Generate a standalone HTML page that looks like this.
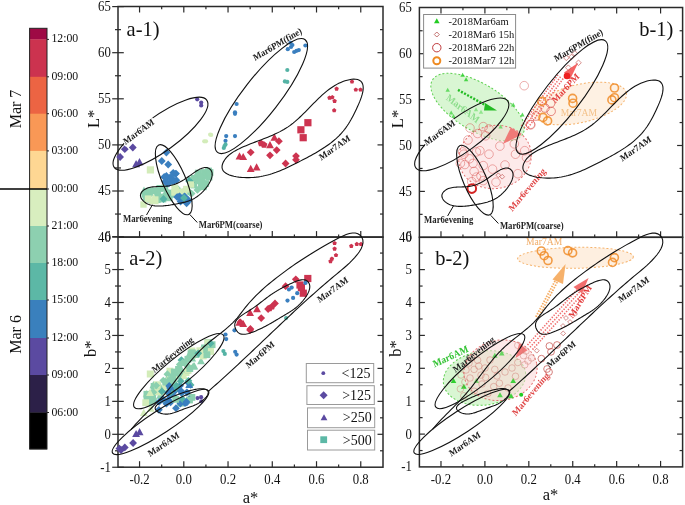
<!DOCTYPE html>
<html><head><meta charset="utf-8"><style>
html,body{margin:0;padding:0;background:#fff;}
svg{display:block;font-family:"Liberation Serif",serif;will-change:transform;}
</style></head><body>
<svg width="685" height="505" viewBox="0 0 685 505">
<rect width="685" height="505" fill="#fff"/>
<g id="colorbar">
<rect x="29.6" y="28.3" width="17.4" height="11.4" fill="#9e0a45"/>
<rect x="29.6" y="39.4" width="17.4" height="37.7" fill="#cc334f"/>
<rect x="29.6" y="76.8" width="17.4" height="37.2" fill="#ec6443"/>
<rect x="29.6" y="113.7" width="17.4" height="37.5" fill="#f99856"/>
<rect x="29.6" y="150.9" width="17.4" height="38.4" fill="#fed793"/>
<rect x="29.6" y="189.0" width="17.4" height="37.3" fill="#d8eebf"/>
<rect x="29.6" y="226.0" width="17.4" height="37.3" fill="#8dd0b0"/>
<rect x="29.6" y="263.0" width="17.4" height="37.3" fill="#5cb8a6"/>
<rect x="29.6" y="300.0" width="17.4" height="38.3" fill="#3a80bd"/>
<rect x="29.6" y="338.0" width="17.4" height="37.3" fill="#5b4aa1"/>
<rect x="29.6" y="375.0" width="17.4" height="37.8" fill="#2c2048"/>
<rect x="29.6" y="412.5" width="17.4" height="36.8" fill="#000000"/>
<rect x="29.6" y="28.3" width="17.4" height="420.7" fill="none" stroke="#222" stroke-width="1"/>
<line x1="47.00" y1="39.40" x2="49.00" y2="39.40" stroke="#222" stroke-width="1"/>
<text transform="translate(51.40,42.40) scale(1.0,1.04)" font-size="11.8" text-anchor="start" fill="#111" >12:00</text>
<line x1="47.00" y1="76.80" x2="49.00" y2="76.80" stroke="#222" stroke-width="1"/>
<text transform="translate(51.40,79.80) scale(1.0,1.04)" font-size="11.8" text-anchor="start" fill="#111" >09:00</text>
<line x1="47.00" y1="113.70" x2="49.00" y2="113.70" stroke="#222" stroke-width="1"/>
<text transform="translate(51.40,116.70) scale(1.0,1.04)" font-size="11.8" text-anchor="start" fill="#111" >06:00</text>
<line x1="47.00" y1="150.90" x2="49.00" y2="150.90" stroke="#222" stroke-width="1"/>
<text transform="translate(51.40,153.90) scale(1.0,1.04)" font-size="11.8" text-anchor="start" fill="#111" >03:00</text>
<line x1="47.00" y1="189.00" x2="49.00" y2="189.00" stroke="#222" stroke-width="1"/>
<text transform="translate(51.40,192.00) scale(1.0,1.04)" font-size="11.8" text-anchor="start" fill="#111" >00:00</text>
<line x1="47.00" y1="226.00" x2="49.00" y2="226.00" stroke="#222" stroke-width="1"/>
<text transform="translate(51.40,229.00) scale(1.0,1.04)" font-size="11.8" text-anchor="start" fill="#111" >21:00</text>
<line x1="47.00" y1="263.00" x2="49.00" y2="263.00" stroke="#222" stroke-width="1"/>
<text transform="translate(51.40,266.00) scale(1.0,1.04)" font-size="11.8" text-anchor="start" fill="#111" >18:00</text>
<line x1="47.00" y1="300.00" x2="49.00" y2="300.00" stroke="#222" stroke-width="1"/>
<text transform="translate(51.40,303.00) scale(1.0,1.04)" font-size="11.8" text-anchor="start" fill="#111" >15:00</text>
<line x1="47.00" y1="338.00" x2="49.00" y2="338.00" stroke="#222" stroke-width="1"/>
<text transform="translate(51.40,341.00) scale(1.0,1.04)" font-size="11.8" text-anchor="start" fill="#111" >12:00</text>
<line x1="47.00" y1="375.00" x2="49.00" y2="375.00" stroke="#222" stroke-width="1"/>
<text transform="translate(51.40,378.00) scale(1.0,1.04)" font-size="11.8" text-anchor="start" fill="#111" >09:00</text>
<line x1="47.00" y1="412.50" x2="49.00" y2="412.50" stroke="#222" stroke-width="1"/>
<text transform="translate(51.40,415.50) scale(1.0,1.04)" font-size="11.8" text-anchor="start" fill="#111" >06:00</text>
<line x1="0.00" y1="189.00" x2="47.00" y2="189.00" stroke="#000" stroke-width="1.3"/>
<text transform="translate(20.5,109) rotate(-90)" font-size="16" text-anchor="middle" fill="#111">Mar 7</text>
<text transform="translate(20.7,334.4) rotate(-90)" font-size="16" text-anchor="middle" fill="#111">Mar 6</text>
</g>
<g id="axes">
<rect x="118.0" y="6.5" width="265.00" height="230.60" fill="none" stroke="#2a2a2a" stroke-width="1.5"/>
<rect x="118.0" y="237.1" width="265.00" height="230.10" fill="none" stroke="#2a2a2a" stroke-width="1.5"/>
<rect x="419.4" y="7.5" width="263.20" height="229.80" fill="none" stroke="#2a2a2a" stroke-width="1.5"/>
<rect x="419.4" y="237.3" width="263.20" height="229.60" fill="none" stroke="#2a2a2a" stroke-width="1.5"/>
<line x1="139.56" y1="6.50" x2="139.56" y2="12.50" stroke="#2a2a2a" stroke-width="1.2"/>
<line x1="161.68" y1="6.50" x2="161.68" y2="9.20" stroke="#2a2a2a" stroke-width="1.2"/>
<line x1="183.80" y1="6.50" x2="183.80" y2="12.50" stroke="#2a2a2a" stroke-width="1.2"/>
<line x1="205.92" y1="6.50" x2="205.92" y2="9.20" stroke="#2a2a2a" stroke-width="1.2"/>
<line x1="228.04" y1="6.50" x2="228.04" y2="12.50" stroke="#2a2a2a" stroke-width="1.2"/>
<line x1="250.16" y1="6.50" x2="250.16" y2="9.20" stroke="#2a2a2a" stroke-width="1.2"/>
<line x1="272.28" y1="6.50" x2="272.28" y2="12.50" stroke="#2a2a2a" stroke-width="1.2"/>
<line x1="294.40" y1="6.50" x2="294.40" y2="9.20" stroke="#2a2a2a" stroke-width="1.2"/>
<line x1="316.52" y1="6.50" x2="316.52" y2="12.50" stroke="#2a2a2a" stroke-width="1.2"/>
<line x1="338.64" y1="6.50" x2="338.64" y2="9.20" stroke="#2a2a2a" stroke-width="1.2"/>
<line x1="360.76" y1="6.50" x2="360.76" y2="12.50" stroke="#2a2a2a" stroke-width="1.2"/>
<line x1="139.56" y1="237.10" x2="139.56" y2="231.10" stroke="#2a2a2a" stroke-width="1.2"/>
<line x1="161.68" y1="237.10" x2="161.68" y2="234.40" stroke="#2a2a2a" stroke-width="1.2"/>
<line x1="183.80" y1="237.10" x2="183.80" y2="231.10" stroke="#2a2a2a" stroke-width="1.2"/>
<line x1="205.92" y1="237.10" x2="205.92" y2="234.40" stroke="#2a2a2a" stroke-width="1.2"/>
<line x1="228.04" y1="237.10" x2="228.04" y2="231.10" stroke="#2a2a2a" stroke-width="1.2"/>
<line x1="250.16" y1="237.10" x2="250.16" y2="234.40" stroke="#2a2a2a" stroke-width="1.2"/>
<line x1="272.28" y1="237.10" x2="272.28" y2="231.10" stroke="#2a2a2a" stroke-width="1.2"/>
<line x1="294.40" y1="237.10" x2="294.40" y2="234.40" stroke="#2a2a2a" stroke-width="1.2"/>
<line x1="316.52" y1="237.10" x2="316.52" y2="231.10" stroke="#2a2a2a" stroke-width="1.2"/>
<line x1="338.64" y1="237.10" x2="338.64" y2="234.40" stroke="#2a2a2a" stroke-width="1.2"/>
<line x1="360.76" y1="237.10" x2="360.76" y2="231.10" stroke="#2a2a2a" stroke-width="1.2"/>
<line x1="139.56" y1="467.20" x2="139.56" y2="461.20" stroke="#2a2a2a" stroke-width="1.2"/>
<line x1="161.68" y1="467.20" x2="161.68" y2="464.50" stroke="#2a2a2a" stroke-width="1.2"/>
<line x1="183.80" y1="467.20" x2="183.80" y2="461.20" stroke="#2a2a2a" stroke-width="1.2"/>
<line x1="205.92" y1="467.20" x2="205.92" y2="464.50" stroke="#2a2a2a" stroke-width="1.2"/>
<line x1="228.04" y1="467.20" x2="228.04" y2="461.20" stroke="#2a2a2a" stroke-width="1.2"/>
<line x1="250.16" y1="467.20" x2="250.16" y2="464.50" stroke="#2a2a2a" stroke-width="1.2"/>
<line x1="272.28" y1="467.20" x2="272.28" y2="461.20" stroke="#2a2a2a" stroke-width="1.2"/>
<line x1="294.40" y1="467.20" x2="294.40" y2="464.50" stroke="#2a2a2a" stroke-width="1.2"/>
<line x1="316.52" y1="467.20" x2="316.52" y2="461.20" stroke="#2a2a2a" stroke-width="1.2"/>
<line x1="338.64" y1="467.20" x2="338.64" y2="464.50" stroke="#2a2a2a" stroke-width="1.2"/>
<line x1="360.76" y1="467.20" x2="360.76" y2="461.20" stroke="#2a2a2a" stroke-width="1.2"/>
<line x1="440.98" y1="7.50" x2="440.98" y2="13.50" stroke="#2a2a2a" stroke-width="1.2"/>
<line x1="462.94" y1="7.50" x2="462.94" y2="10.20" stroke="#2a2a2a" stroke-width="1.2"/>
<line x1="484.90" y1="7.50" x2="484.90" y2="13.50" stroke="#2a2a2a" stroke-width="1.2"/>
<line x1="506.86" y1="7.50" x2="506.86" y2="10.20" stroke="#2a2a2a" stroke-width="1.2"/>
<line x1="528.82" y1="7.50" x2="528.82" y2="13.50" stroke="#2a2a2a" stroke-width="1.2"/>
<line x1="550.78" y1="7.50" x2="550.78" y2="10.20" stroke="#2a2a2a" stroke-width="1.2"/>
<line x1="572.74" y1="7.50" x2="572.74" y2="13.50" stroke="#2a2a2a" stroke-width="1.2"/>
<line x1="594.70" y1="7.50" x2="594.70" y2="10.20" stroke="#2a2a2a" stroke-width="1.2"/>
<line x1="616.66" y1="7.50" x2="616.66" y2="13.50" stroke="#2a2a2a" stroke-width="1.2"/>
<line x1="638.62" y1="7.50" x2="638.62" y2="10.20" stroke="#2a2a2a" stroke-width="1.2"/>
<line x1="660.58" y1="7.50" x2="660.58" y2="13.50" stroke="#2a2a2a" stroke-width="1.2"/>
<line x1="440.98" y1="237.30" x2="440.98" y2="231.30" stroke="#2a2a2a" stroke-width="1.2"/>
<line x1="462.94" y1="237.30" x2="462.94" y2="234.60" stroke="#2a2a2a" stroke-width="1.2"/>
<line x1="484.90" y1="237.30" x2="484.90" y2="231.30" stroke="#2a2a2a" stroke-width="1.2"/>
<line x1="506.86" y1="237.30" x2="506.86" y2="234.60" stroke="#2a2a2a" stroke-width="1.2"/>
<line x1="528.82" y1="237.30" x2="528.82" y2="231.30" stroke="#2a2a2a" stroke-width="1.2"/>
<line x1="550.78" y1="237.30" x2="550.78" y2="234.60" stroke="#2a2a2a" stroke-width="1.2"/>
<line x1="572.74" y1="237.30" x2="572.74" y2="231.30" stroke="#2a2a2a" stroke-width="1.2"/>
<line x1="594.70" y1="237.30" x2="594.70" y2="234.60" stroke="#2a2a2a" stroke-width="1.2"/>
<line x1="616.66" y1="237.30" x2="616.66" y2="231.30" stroke="#2a2a2a" stroke-width="1.2"/>
<line x1="638.62" y1="237.30" x2="638.62" y2="234.60" stroke="#2a2a2a" stroke-width="1.2"/>
<line x1="660.58" y1="237.30" x2="660.58" y2="231.30" stroke="#2a2a2a" stroke-width="1.2"/>
<line x1="440.98" y1="466.90" x2="440.98" y2="460.90" stroke="#2a2a2a" stroke-width="1.2"/>
<line x1="462.94" y1="466.90" x2="462.94" y2="464.20" stroke="#2a2a2a" stroke-width="1.2"/>
<line x1="484.90" y1="466.90" x2="484.90" y2="460.90" stroke="#2a2a2a" stroke-width="1.2"/>
<line x1="506.86" y1="466.90" x2="506.86" y2="464.20" stroke="#2a2a2a" stroke-width="1.2"/>
<line x1="528.82" y1="466.90" x2="528.82" y2="460.90" stroke="#2a2a2a" stroke-width="1.2"/>
<line x1="550.78" y1="466.90" x2="550.78" y2="464.20" stroke="#2a2a2a" stroke-width="1.2"/>
<line x1="572.74" y1="466.90" x2="572.74" y2="460.90" stroke="#2a2a2a" stroke-width="1.2"/>
<line x1="594.70" y1="466.90" x2="594.70" y2="464.20" stroke="#2a2a2a" stroke-width="1.2"/>
<line x1="616.66" y1="466.90" x2="616.66" y2="460.90" stroke="#2a2a2a" stroke-width="1.2"/>
<line x1="638.62" y1="466.90" x2="638.62" y2="464.20" stroke="#2a2a2a" stroke-width="1.2"/>
<line x1="660.58" y1="466.90" x2="660.58" y2="460.90" stroke="#2a2a2a" stroke-width="1.2"/>
<line x1="112.20" y1="237.10" x2="123.80" y2="237.10" stroke="#2a2a2a" stroke-width="1.2"/>
<line x1="115.00" y1="214.05" x2="121.00" y2="214.05" stroke="#2a2a2a" stroke-width="1.2"/>
<line x1="380.00" y1="214.05" x2="383.00" y2="214.05" stroke="#2a2a2a" stroke-width="1.2"/>
<line x1="112.20" y1="191.00" x2="123.80" y2="191.00" stroke="#2a2a2a" stroke-width="1.2"/>
<line x1="377.50" y1="191.00" x2="383.00" y2="191.00" stroke="#2a2a2a" stroke-width="1.2"/>
<line x1="115.00" y1="167.95" x2="121.00" y2="167.95" stroke="#2a2a2a" stroke-width="1.2"/>
<line x1="380.00" y1="167.95" x2="383.00" y2="167.95" stroke="#2a2a2a" stroke-width="1.2"/>
<line x1="112.20" y1="144.90" x2="123.80" y2="144.90" stroke="#2a2a2a" stroke-width="1.2"/>
<line x1="377.50" y1="144.90" x2="383.00" y2="144.90" stroke="#2a2a2a" stroke-width="1.2"/>
<line x1="115.00" y1="121.85" x2="121.00" y2="121.85" stroke="#2a2a2a" stroke-width="1.2"/>
<line x1="380.00" y1="121.85" x2="383.00" y2="121.85" stroke="#2a2a2a" stroke-width="1.2"/>
<line x1="112.20" y1="98.80" x2="123.80" y2="98.80" stroke="#2a2a2a" stroke-width="1.2"/>
<line x1="377.50" y1="98.80" x2="383.00" y2="98.80" stroke="#2a2a2a" stroke-width="1.2"/>
<line x1="115.00" y1="75.75" x2="121.00" y2="75.75" stroke="#2a2a2a" stroke-width="1.2"/>
<line x1="380.00" y1="75.75" x2="383.00" y2="75.75" stroke="#2a2a2a" stroke-width="1.2"/>
<line x1="112.20" y1="52.70" x2="123.80" y2="52.70" stroke="#2a2a2a" stroke-width="1.2"/>
<line x1="377.50" y1="52.70" x2="383.00" y2="52.70" stroke="#2a2a2a" stroke-width="1.2"/>
<line x1="115.00" y1="29.65" x2="121.00" y2="29.65" stroke="#2a2a2a" stroke-width="1.2"/>
<line x1="380.00" y1="29.65" x2="383.00" y2="29.65" stroke="#2a2a2a" stroke-width="1.2"/>
<line x1="112.20" y1="6.60" x2="123.80" y2="6.60" stroke="#2a2a2a" stroke-width="1.2"/>
<line x1="112.20" y1="467.25" x2="123.80" y2="467.25" stroke="#2a2a2a" stroke-width="1.2"/>
<line x1="115.00" y1="450.78" x2="121.00" y2="450.78" stroke="#2a2a2a" stroke-width="1.2"/>
<line x1="380.00" y1="450.78" x2="383.00" y2="450.78" stroke="#2a2a2a" stroke-width="1.2"/>
<line x1="112.20" y1="434.30" x2="123.80" y2="434.30" stroke="#2a2a2a" stroke-width="1.2"/>
<line x1="377.50" y1="434.30" x2="383.00" y2="434.30" stroke="#2a2a2a" stroke-width="1.2"/>
<line x1="115.00" y1="417.82" x2="121.00" y2="417.82" stroke="#2a2a2a" stroke-width="1.2"/>
<line x1="380.00" y1="417.82" x2="383.00" y2="417.82" stroke="#2a2a2a" stroke-width="1.2"/>
<line x1="112.20" y1="401.35" x2="123.80" y2="401.35" stroke="#2a2a2a" stroke-width="1.2"/>
<line x1="377.50" y1="401.35" x2="383.00" y2="401.35" stroke="#2a2a2a" stroke-width="1.2"/>
<line x1="115.00" y1="384.88" x2="121.00" y2="384.88" stroke="#2a2a2a" stroke-width="1.2"/>
<line x1="380.00" y1="384.88" x2="383.00" y2="384.88" stroke="#2a2a2a" stroke-width="1.2"/>
<line x1="112.20" y1="368.40" x2="123.80" y2="368.40" stroke="#2a2a2a" stroke-width="1.2"/>
<line x1="377.50" y1="368.40" x2="383.00" y2="368.40" stroke="#2a2a2a" stroke-width="1.2"/>
<line x1="115.00" y1="351.93" x2="121.00" y2="351.93" stroke="#2a2a2a" stroke-width="1.2"/>
<line x1="380.00" y1="351.93" x2="383.00" y2="351.93" stroke="#2a2a2a" stroke-width="1.2"/>
<line x1="112.20" y1="335.45" x2="123.80" y2="335.45" stroke="#2a2a2a" stroke-width="1.2"/>
<line x1="377.50" y1="335.45" x2="383.00" y2="335.45" stroke="#2a2a2a" stroke-width="1.2"/>
<line x1="115.00" y1="318.98" x2="121.00" y2="318.98" stroke="#2a2a2a" stroke-width="1.2"/>
<line x1="380.00" y1="318.98" x2="383.00" y2="318.98" stroke="#2a2a2a" stroke-width="1.2"/>
<line x1="112.20" y1="302.50" x2="123.80" y2="302.50" stroke="#2a2a2a" stroke-width="1.2"/>
<line x1="377.50" y1="302.50" x2="383.00" y2="302.50" stroke="#2a2a2a" stroke-width="1.2"/>
<line x1="115.00" y1="286.02" x2="121.00" y2="286.02" stroke="#2a2a2a" stroke-width="1.2"/>
<line x1="380.00" y1="286.02" x2="383.00" y2="286.02" stroke="#2a2a2a" stroke-width="1.2"/>
<line x1="112.20" y1="269.55" x2="123.80" y2="269.55" stroke="#2a2a2a" stroke-width="1.2"/>
<line x1="377.50" y1="269.55" x2="383.00" y2="269.55" stroke="#2a2a2a" stroke-width="1.2"/>
<line x1="115.00" y1="253.07" x2="121.00" y2="253.07" stroke="#2a2a2a" stroke-width="1.2"/>
<line x1="380.00" y1="253.07" x2="383.00" y2="253.07" stroke="#2a2a2a" stroke-width="1.2"/>
<line x1="112.20" y1="236.60" x2="123.80" y2="236.60" stroke="#2a2a2a" stroke-width="1.2"/>
<line x1="419.40" y1="214.35" x2="422.60" y2="214.35" stroke="#2a2a2a" stroke-width="1.2"/>
<line x1="679.60" y1="214.35" x2="682.60" y2="214.35" stroke="#2a2a2a" stroke-width="1.2"/>
<line x1="419.40" y1="191.40" x2="424.90" y2="191.40" stroke="#2a2a2a" stroke-width="1.2"/>
<line x1="677.10" y1="191.40" x2="682.60" y2="191.40" stroke="#2a2a2a" stroke-width="1.2"/>
<line x1="419.40" y1="168.45" x2="422.60" y2="168.45" stroke="#2a2a2a" stroke-width="1.2"/>
<line x1="679.60" y1="168.45" x2="682.60" y2="168.45" stroke="#2a2a2a" stroke-width="1.2"/>
<line x1="419.40" y1="145.50" x2="424.90" y2="145.50" stroke="#2a2a2a" stroke-width="1.2"/>
<line x1="677.10" y1="145.50" x2="682.60" y2="145.50" stroke="#2a2a2a" stroke-width="1.2"/>
<line x1="419.40" y1="122.55" x2="422.60" y2="122.55" stroke="#2a2a2a" stroke-width="1.2"/>
<line x1="679.60" y1="122.55" x2="682.60" y2="122.55" stroke="#2a2a2a" stroke-width="1.2"/>
<line x1="419.40" y1="99.60" x2="424.90" y2="99.60" stroke="#2a2a2a" stroke-width="1.2"/>
<line x1="677.10" y1="99.60" x2="682.60" y2="99.60" stroke="#2a2a2a" stroke-width="1.2"/>
<line x1="419.40" y1="76.65" x2="422.60" y2="76.65" stroke="#2a2a2a" stroke-width="1.2"/>
<line x1="679.60" y1="76.65" x2="682.60" y2="76.65" stroke="#2a2a2a" stroke-width="1.2"/>
<line x1="419.40" y1="53.70" x2="424.90" y2="53.70" stroke="#2a2a2a" stroke-width="1.2"/>
<line x1="677.10" y1="53.70" x2="682.60" y2="53.70" stroke="#2a2a2a" stroke-width="1.2"/>
<line x1="419.40" y1="30.75" x2="422.60" y2="30.75" stroke="#2a2a2a" stroke-width="1.2"/>
<line x1="679.60" y1="30.75" x2="682.60" y2="30.75" stroke="#2a2a2a" stroke-width="1.2"/>
<line x1="419.40" y1="450.55" x2="422.60" y2="450.55" stroke="#2a2a2a" stroke-width="1.2"/>
<line x1="679.60" y1="450.55" x2="682.60" y2="450.55" stroke="#2a2a2a" stroke-width="1.2"/>
<line x1="419.40" y1="434.10" x2="424.90" y2="434.10" stroke="#2a2a2a" stroke-width="1.2"/>
<line x1="677.10" y1="434.10" x2="682.60" y2="434.10" stroke="#2a2a2a" stroke-width="1.2"/>
<line x1="419.40" y1="417.65" x2="422.60" y2="417.65" stroke="#2a2a2a" stroke-width="1.2"/>
<line x1="679.60" y1="417.65" x2="682.60" y2="417.65" stroke="#2a2a2a" stroke-width="1.2"/>
<line x1="419.40" y1="401.20" x2="424.90" y2="401.20" stroke="#2a2a2a" stroke-width="1.2"/>
<line x1="677.10" y1="401.20" x2="682.60" y2="401.20" stroke="#2a2a2a" stroke-width="1.2"/>
<line x1="419.40" y1="384.75" x2="422.60" y2="384.75" stroke="#2a2a2a" stroke-width="1.2"/>
<line x1="679.60" y1="384.75" x2="682.60" y2="384.75" stroke="#2a2a2a" stroke-width="1.2"/>
<line x1="419.40" y1="368.30" x2="424.90" y2="368.30" stroke="#2a2a2a" stroke-width="1.2"/>
<line x1="677.10" y1="368.30" x2="682.60" y2="368.30" stroke="#2a2a2a" stroke-width="1.2"/>
<line x1="419.40" y1="351.85" x2="422.60" y2="351.85" stroke="#2a2a2a" stroke-width="1.2"/>
<line x1="679.60" y1="351.85" x2="682.60" y2="351.85" stroke="#2a2a2a" stroke-width="1.2"/>
<line x1="419.40" y1="335.40" x2="424.90" y2="335.40" stroke="#2a2a2a" stroke-width="1.2"/>
<line x1="677.10" y1="335.40" x2="682.60" y2="335.40" stroke="#2a2a2a" stroke-width="1.2"/>
<line x1="419.40" y1="318.95" x2="422.60" y2="318.95" stroke="#2a2a2a" stroke-width="1.2"/>
<line x1="679.60" y1="318.95" x2="682.60" y2="318.95" stroke="#2a2a2a" stroke-width="1.2"/>
<line x1="419.40" y1="302.50" x2="424.90" y2="302.50" stroke="#2a2a2a" stroke-width="1.2"/>
<line x1="677.10" y1="302.50" x2="682.60" y2="302.50" stroke="#2a2a2a" stroke-width="1.2"/>
<line x1="419.40" y1="286.05" x2="422.60" y2="286.05" stroke="#2a2a2a" stroke-width="1.2"/>
<line x1="679.60" y1="286.05" x2="682.60" y2="286.05" stroke="#2a2a2a" stroke-width="1.2"/>
<line x1="419.40" y1="269.60" x2="424.90" y2="269.60" stroke="#2a2a2a" stroke-width="1.2"/>
<line x1="677.10" y1="269.60" x2="682.60" y2="269.60" stroke="#2a2a2a" stroke-width="1.2"/>
<line x1="419.40" y1="253.15" x2="422.60" y2="253.15" stroke="#2a2a2a" stroke-width="1.2"/>
<line x1="679.60" y1="253.15" x2="682.60" y2="253.15" stroke="#2a2a2a" stroke-width="1.2"/>
<text transform="translate(110.80,241.50) scale(1.0,1.12)" font-size="12.8" text-anchor="end" fill="#111" >40</text>
<text transform="translate(411.80,241.70) scale(1.0,1.12)" font-size="12.8" text-anchor="end" fill="#111" >40</text>
<text transform="translate(110.80,195.40) scale(1.0,1.12)" font-size="12.8" text-anchor="end" fill="#111" >45</text>
<text transform="translate(411.80,195.80) scale(1.0,1.12)" font-size="12.8" text-anchor="end" fill="#111" >45</text>
<text transform="translate(110.80,149.30) scale(1.0,1.12)" font-size="12.8" text-anchor="end" fill="#111" >50</text>
<text transform="translate(411.80,149.90) scale(1.0,1.12)" font-size="12.8" text-anchor="end" fill="#111" >50</text>
<text transform="translate(110.80,103.20) scale(1.0,1.12)" font-size="12.8" text-anchor="end" fill="#111" >55</text>
<text transform="translate(411.80,104.00) scale(1.0,1.12)" font-size="12.8" text-anchor="end" fill="#111" >55</text>
<text transform="translate(110.80,57.10) scale(1.0,1.12)" font-size="12.8" text-anchor="end" fill="#111" >60</text>
<text transform="translate(411.80,58.10) scale(1.0,1.12)" font-size="12.8" text-anchor="end" fill="#111" >60</text>
<text transform="translate(110.80,11.00) scale(1.0,1.12)" font-size="12.8" text-anchor="end" fill="#111" >65</text>
<text transform="translate(411.80,12.20) scale(1.0,1.12)" font-size="12.8" text-anchor="end" fill="#111" >65</text>
<text transform="translate(110.80,471.65) scale(1.0,1.12)" font-size="12.8" text-anchor="end" fill="#111" >-1</text>
<text transform="translate(411.80,471.40) scale(1.0,1.12)" font-size="12.8" text-anchor="end" fill="#111" >-1</text>
<text transform="translate(110.80,438.70) scale(1.0,1.12)" font-size="12.8" text-anchor="end" fill="#111" >0</text>
<text transform="translate(411.80,438.50) scale(1.0,1.12)" font-size="12.8" text-anchor="end" fill="#111" >0</text>
<text transform="translate(110.80,405.75) scale(1.0,1.12)" font-size="12.8" text-anchor="end" fill="#111" >1</text>
<text transform="translate(411.80,405.60) scale(1.0,1.12)" font-size="12.8" text-anchor="end" fill="#111" >1</text>
<text transform="translate(110.80,372.80) scale(1.0,1.12)" font-size="12.8" text-anchor="end" fill="#111" >2</text>
<text transform="translate(411.80,372.70) scale(1.0,1.12)" font-size="12.8" text-anchor="end" fill="#111" >2</text>
<text transform="translate(110.80,339.85) scale(1.0,1.12)" font-size="12.8" text-anchor="end" fill="#111" >3</text>
<text transform="translate(411.80,339.80) scale(1.0,1.12)" font-size="12.8" text-anchor="end" fill="#111" >3</text>
<text transform="translate(110.80,306.90) scale(1.0,1.12)" font-size="12.8" text-anchor="end" fill="#111" >4</text>
<text transform="translate(411.80,306.90) scale(1.0,1.12)" font-size="12.8" text-anchor="end" fill="#111" >4</text>
<text transform="translate(110.80,273.95) scale(1.0,1.12)" font-size="12.8" text-anchor="end" fill="#111" >5</text>
<text transform="translate(411.80,274.00) scale(1.0,1.12)" font-size="12.8" text-anchor="end" fill="#111" >5</text>
<text transform="translate(110.80,241.00) scale(1.0,1.12)" font-size="12.8" text-anchor="end" fill="#111" >6</text>
<text transform="translate(411.80,241.10) scale(1.0,1.12)" font-size="12.8" text-anchor="end" fill="#111" >6</text>
<text transform="translate(139.56,483.80) scale(1.0,1.12)" font-size="12.8" text-anchor="middle" fill="#111" >-0.2</text>
<text transform="translate(440.98,483.80) scale(1.0,1.12)" font-size="12.8" text-anchor="middle" fill="#111" >-0.2</text>
<text transform="translate(183.80,483.80) scale(1.0,1.12)" font-size="12.8" text-anchor="middle" fill="#111" >0.0</text>
<text transform="translate(484.90,483.80) scale(1.0,1.12)" font-size="12.8" text-anchor="middle" fill="#111" >0.0</text>
<text transform="translate(228.04,483.80) scale(1.0,1.12)" font-size="12.8" text-anchor="middle" fill="#111" >0.2</text>
<text transform="translate(528.82,483.80) scale(1.0,1.12)" font-size="12.8" text-anchor="middle" fill="#111" >0.2</text>
<text transform="translate(272.28,483.80) scale(1.0,1.12)" font-size="12.8" text-anchor="middle" fill="#111" >0.4</text>
<text transform="translate(572.74,483.80) scale(1.0,1.12)" font-size="12.8" text-anchor="middle" fill="#111" >0.4</text>
<text transform="translate(316.52,483.80) scale(1.0,1.12)" font-size="12.8" text-anchor="middle" fill="#111" >0.6</text>
<text transform="translate(616.66,483.80) scale(1.0,1.12)" font-size="12.8" text-anchor="middle" fill="#111" >0.6</text>
<text transform="translate(360.76,483.80) scale(1.0,1.12)" font-size="12.8" text-anchor="middle" fill="#111" >0.8</text>
<text transform="translate(660.58,483.80) scale(1.0,1.12)" font-size="12.8" text-anchor="middle" fill="#111" >0.8</text>
<text transform="translate(98.6,118.8) rotate(-90)" font-size="16.5" text-anchor="middle" fill="#111">L*</text>
<text transform="translate(95.8,348.8) rotate(-90)" font-size="16.5" text-anchor="middle" fill="#111">b*</text>
<text transform="translate(403.3,119) rotate(-90)" font-size="16.5" text-anchor="middle" fill="#111">L*</text>
<text transform="translate(400.5,348.6) rotate(-90)" font-size="16.5" text-anchor="middle" fill="#111">b*</text>
<text x="250.50" y="503.00" font-size="16.5" text-anchor="middle" fill="#111" >a*</text>
<text x="550.50" y="500.00" font-size="16.5" text-anchor="middle" fill="#111" >a*</text>
<text transform="translate(126.60,35.80) scale(1.0,1.06)" font-size="20.5" text-anchor="start" fill="#111" >a-1)</text>
<text transform="translate(129.30,265.40) scale(1.0,1.06)" font-size="20.5" text-anchor="start" fill="#111" >a-2)</text>
<text transform="translate(639.30,35.90) scale(1.0,1.06)" font-size="20.5" text-anchor="start" fill="#111" >b-1)</text>
<text transform="translate(435.30,264.50) scale(1.0,1.06)" font-size="20.5" text-anchor="start" fill="#111" >b-2)</text>
</g>
<g id="dataA">
<circle cx="197.2" cy="99.3" r="2.1" fill="#5b4aa1"/>
<circle cx="201.2" cy="102.6" r="2.1" fill="#5b4aa1"/>
<circle cx="201.2" cy="105.5" r="2.1" fill="#5b4aa1"/>
<path d="M132.8,143.6L136.7,147.5L132.8,151.4L128.9,147.5Z" fill="#5b4aa1"/>
<path d="M124.8,145.3L128.7,149.2L124.8,153.1L120.9,149.2Z" fill="#5b4aa1"/>
<path d="M120.1,153.1L124.0,157.0L120.1,160.9L116.2,157.0Z" fill="#5b4aa1"/>
<path d="M139.5,158.1L143.4,165.3L135.6,165.3Z" fill="#5b4aa1"/>
<path d="M136.1,160.1L140.0,167.3L132.2,167.3Z" fill="#5b4aa1"/>
<circle cx="287.8" cy="49.2" r="2.1" fill="#3a7fbf"/>
<circle cx="290.5" cy="42.8" r="2.1" fill="#3a7fbf"/>
<circle cx="292.4" cy="45.0" r="2.1" fill="#3a7fbf"/>
<circle cx="291.0" cy="47.0" r="2.1" fill="#3a7fbf"/>
<circle cx="294.2" cy="52.0" r="2.1" fill="#3a7fbf"/>
<circle cx="296.5" cy="50.8" r="2.1" fill="#3a7fbf"/>
<circle cx="298.8" cy="50.1" r="2.1" fill="#3a7fbf"/>
<circle cx="305.4" cy="45.5" r="2.1" fill="#3a7fbf"/>
<circle cx="236.6" cy="104.0" r="2.1" fill="#3a7fbf"/>
<circle cx="235.0" cy="112.3" r="2.1" fill="#3a7fbf"/>
<circle cx="235.0" cy="113.8" r="2.1" fill="#3a7fbf"/>
<circle cx="226.2" cy="136.1" r="2.1" fill="#3a7fbf"/>
<circle cx="235.0" cy="136.1" r="2.1" fill="#3a7fbf"/>
<circle cx="225.5" cy="140.8" r="2.1" fill="#3a7fbf"/>
<circle cx="287.3" cy="70.0" r="2.1" fill="#55b3a5"/>
<circle cx="284.9" cy="81.4" r="2.1" fill="#55b3a5"/>
<circle cx="287.3" cy="81.9" r="2.1" fill="#55b3a5"/>
<circle cx="225.5" cy="144.4" r="2.1" fill="#55b3a5"/>
<circle cx="223.8" cy="148.0" r="2.1" fill="#55b3a5"/>
<circle cx="224.5" cy="146.0" r="2.1" fill="#55b3a5"/>
<circle cx="211.2" cy="134.9" r="2.1" fill="#d3ecb9"/>
<circle cx="204.2" cy="141.3" r="2.1" fill="#d3ecb9"/>
<circle cx="210.1" cy="134.6" r="2.1" fill="#d3ecb9"/>
<circle cx="206.0" cy="141.3" r="2.1" fill="#d3ecb9"/>
<rect x="146.8" y="166.3" width="7.2" height="7.2" fill="#d3ecb9"/>
<polygon points="352.0,79.4 354.2,81.0 353.4,83.6 350.6,83.6 349.8,81.0" fill="#cd3450"/>
<polygon points="336.6,86.5 338.8,88.1 338.0,90.7 335.2,90.7 334.4,88.1" fill="#cd3450"/>
<polygon points="355.8,87.4 358.0,89.0 357.2,91.6 354.4,91.6 353.6,89.0" fill="#cd3450"/>
<polygon points="360.5,87.4 362.7,89.0 361.9,91.6 359.1,91.6 358.3,89.0" fill="#cd3450"/>
<polygon points="329.5,95.5 331.7,97.1 330.9,99.7 328.1,99.7 327.3,97.1" fill="#cd3450"/>
<polygon points="332.3,95.0 334.5,96.6 333.7,99.2 330.9,99.2 330.1,96.6" fill="#cd3450"/>
<polygon points="334.6,98.7 336.8,100.3 336.0,102.9 333.2,102.9 332.4,100.3" fill="#cd3450"/>
<polygon points="334.2,108.1 336.4,109.7 335.6,112.3 332.8,112.3 332.0,109.7" fill="#cd3450"/>
<rect x="304.3" y="119.1" width="7.2" height="7.2" fill="#cd3450"/>
<rect x="297.3" y="126.2" width="7.2" height="7.2" fill="#cd3450"/>
<rect x="299.6" y="134.1" width="7.2" height="7.2" fill="#cd3450"/>
<path d="M250.7,148.4L254.6,152.3L250.7,156.2L246.8,152.3Z" fill="#cd3450"/>
<path d="M270.0,151.4L273.9,155.3L270.0,159.2L266.1,155.3Z" fill="#cd3450"/>
<path d="M276.7,146.2L280.6,150.1L276.7,154.0L272.8,150.1Z" fill="#cd3450"/>
<path d="M278.9,137.3L282.8,141.2L278.9,145.1L275.0,141.2Z" fill="#cd3450"/>
<path d="M285.6,159.6L289.5,163.5L285.6,167.4L281.7,163.5Z" fill="#cd3450"/>
<path d="M296.0,152.2L299.9,156.1L296.0,160.0L292.1,156.1Z" fill="#cd3450"/>
<path d="M296.0,155.9L299.9,159.8L296.0,163.7L292.1,159.8Z" fill="#cd3450"/>
<path d="M239.5,152.2L243.4,159.4L235.6,159.4Z" fill="#cd3450"/>
<path d="M243.2,152.9L247.1,160.1L239.3,160.1Z" fill="#cd3450"/>
<path d="M250.7,164.8L254.6,172.0L246.8,172.0Z" fill="#cd3450"/>
<path d="M256.6,163.3L260.5,170.5L252.7,170.5Z" fill="#cd3450"/>
<path d="M270.0,141.0L273.9,148.2L266.1,148.2Z" fill="#cd3450"/>
<path d="M274.4,133.6L278.3,140.8L270.5,140.8Z" fill="#cd3450"/>
<polygon points="261.1,139.8 264.5,142.3 263.2,146.3 259.0,146.3 257.7,142.3" fill="#cd3450"/>
<polygon points="264.0,141.3 267.4,143.8 266.1,147.8 261.9,147.8 260.6,143.8" fill="#cd3450"/>
<rect x="154.2" y="192.2" width="6.8" height="6.8" fill="#8bd0af"/>
<rect x="168.3" y="190.9" width="6.8" height="6.8" fill="#8bd0af"/>
<path d="M159.2,192.1L163.1,199.3L155.3,199.3Z" fill="#8bd0af"/>
<path d="M149.5,191.0L153.4,194.9L149.5,198.8L145.6,194.9Z" fill="#8bd0af"/>
<rect x="159.5" y="195.6" width="6.8" height="6.8" fill="#8bd0af"/>
<rect x="143.4" y="188.5" width="6.8" height="6.8" fill="#8bd0af"/>
<rect x="143.3" y="195.8" width="6.8" height="6.8" fill="#8bd0af"/>
<rect x="161.4" y="184.7" width="6.8" height="6.8" fill="#8bd0af"/>
<path d="M163.6,192.5L167.5,196.4L163.6,200.3L159.7,196.4Z" fill="#8bd0af"/>
<rect x="156.5" y="185.0" width="6.8" height="6.8" fill="#8bd0af"/>
<rect x="146.3" y="187.6" width="6.8" height="6.8" fill="#8bd0af"/>
<rect x="141.5" y="190.8" width="6.8" height="6.8" fill="#8bd0af"/>
<rect x="153.8" y="196.3" width="6.8" height="6.8" fill="#8bd0af"/>
<path d="M159.6,192.9L163.5,196.8L159.6,200.7L155.7,196.8Z" fill="#8bd0af"/>
<rect x="155.6" y="193.7" width="6.8" height="6.8" fill="#8bd0af"/>
<path d="M157.7,187.6L161.6,191.5L157.7,195.4L153.8,191.5Z" fill="#8bd0af"/>
<rect x="165.8" y="194.4" width="6.8" height="6.8" fill="#8bd0af"/>
<rect x="150.1" y="187.4" width="6.8" height="6.8" fill="#8bd0af"/>
<rect x="163.6" y="189.9" width="6.8" height="6.8" fill="#8bd0af"/>
<rect x="166.0" y="189.7" width="6.8" height="6.8" fill="#8bd0af"/>
<path d="M144.0,186.6L147.9,193.9L140.1,193.9Z" fill="#8bd0af"/>
<path d="M171.3,190.4L175.2,194.3L171.3,198.2L167.4,194.3Z" fill="#8bd0af"/>
<rect x="142.8" y="193.2" width="6.8" height="6.8" fill="#8bd0af"/>
<path d="M167.4,187.5L171.3,194.7L163.5,194.7Z" fill="#8bd0af"/>
<rect x="201.1" y="169.1" width="6.8" height="6.8" fill="#8bd0af"/>
<path d="M203.8,171.8L207.7,179.0L199.9,179.0Z" fill="#8bd0af"/>
<path d="M206.1,170.3L210.0,174.2L206.1,178.1L202.2,174.2Z" fill="#8bd0af"/>
<rect x="187.7" y="176.7" width="6.8" height="6.8" fill="#8bd0af"/>
<rect x="196.6" y="174.3" width="6.8" height="6.8" fill="#8bd0af"/>
<rect x="198.7" y="175.4" width="6.8" height="6.8" fill="#8bd0af"/>
<path d="M189.6,188.5L193.5,192.4L189.6,196.3L185.7,192.4Z" fill="#8bd0af"/>
<rect x="199.9" y="183.4" width="6.8" height="6.8" fill="#8bd0af"/>
<rect x="189.2" y="177.7" width="6.8" height="6.8" fill="#8bd0af"/>
<rect x="205.1" y="167.6" width="6.8" height="6.8" fill="#8bd0af"/>
<path d="M197.4,186.0L201.3,189.9L197.4,193.8L193.5,189.9Z" fill="#8bd0af"/>
<path d="M199.7,174.8L203.6,178.7L199.7,182.6L195.8,178.7Z" fill="#8bd0af"/>
<rect x="194.9" y="169.7" width="6.8" height="6.8" fill="#8bd0af"/>
<path d="M206.9,172.7L210.8,176.6L206.9,180.5L203.0,176.6Z" fill="#8bd0af"/>
<rect x="205.6" y="173.7" width="6.8" height="6.8" fill="#8bd0af"/>
<rect x="194.7" y="174.7" width="6.8" height="6.8" fill="#8bd0af"/>
<path d="M204.6,171.9L208.5,179.1L200.7,179.1Z" fill="#8bd0af"/>
<rect x="182.7" y="187.9" width="6.8" height="6.8" fill="#8bd0af"/>
<rect x="206.6" y="169.1" width="6.8" height="6.8" fill="#8bd0af"/>
<rect x="194.8" y="177.4" width="6.8" height="6.8" fill="#8bd0af"/>
<path d="M186.6,186.1L190.5,190.0L186.6,193.9L182.7,190.0Z" fill="#8bd0af"/>
<rect x="196.7" y="176.9" width="6.8" height="6.8" fill="#8bd0af"/>
<rect x="202.2" y="180.2" width="6.8" height="6.8" fill="#8bd0af"/>
<path d="M203.3,171.1L207.2,178.3L199.4,178.3Z" fill="#8bd0af"/>
<rect x="190.4" y="181.6" width="6.8" height="6.8" fill="#8bd0af"/>
<path d="M195.1,173.5L199.0,177.4L195.1,181.3L191.2,177.4Z" fill="#8bd0af"/>
<rect x="198.0" y="183.1" width="6.8" height="6.8" fill="#8bd0af"/>
<path d="M200.8,172.5L204.7,176.4L200.8,180.3L196.9,176.4Z" fill="#8bd0af"/>
<rect x="190.8" y="175.0" width="6.8" height="6.8" fill="#8bd0af"/>
<path d="M191.6,189.7L195.5,193.6L191.6,197.5L187.7,193.6Z" fill="#8bd0af"/>
<rect x="171.2" y="188.9" width="6.8" height="6.8" fill="#d3ecb9"/>
<path d="M177.1,184.4L181.0,188.3L177.1,192.2L173.2,188.3Z" fill="#8bd0af"/>
<rect x="180.6" y="188.5" width="6.8" height="6.8" fill="#d3ecb9"/>
<rect x="174.1" y="188.8" width="6.8" height="6.8" fill="#d3ecb9"/>
<rect x="175.6" y="189.6" width="6.8" height="6.8" fill="#d3ecb9"/>
<rect x="171.4" y="184.6" width="6.8" height="6.8" fill="#d3ecb9"/>
<rect x="183.1" y="185.8" width="6.8" height="6.8" fill="#d3ecb9"/>
<path d="M154.1,196.0L158.0,203.2L150.2,203.2Z" fill="#d3ecb9"/>
<rect x="151.7" y="196.3" width="6.8" height="6.8" fill="#d3ecb9"/>
<path d="M155.0,197.0L158.9,204.3L151.1,204.3Z" fill="#d3ecb9"/>
<path d="M152.4,196.9L156.3,204.1L148.5,204.1Z" fill="#d3ecb9"/>
<rect x="144.8" y="195.4" width="6.8" height="6.8" fill="#d3ecb9"/>
<path d="M153.7,194.0L157.6,201.2L149.8,201.2Z" fill="#d3ecb9"/>
<path d="M172.5,177.1L176.4,181.0L172.5,184.9L168.6,181.0Z" fill="#3a7fbf"/>
<path d="M176.0,169.7L179.9,173.6L176.0,177.5L172.1,173.6Z" fill="#3a7fbf"/>
<path d="M164.2,173.0L168.1,176.9L164.2,180.8L160.3,176.9Z" fill="#3a7fbf"/>
<path d="M168.9,179.4L172.8,183.3L168.9,187.2L165.0,183.3Z" fill="#3a7fbf"/>
<path d="M176.4,176.3L180.3,180.2L176.4,184.1L172.5,180.2Z" fill="#3a7fbf"/>
<path d="M174.0,177.2L177.9,181.1L174.0,185.0L170.1,181.1Z" fill="#3a7fbf"/>
<path d="M166.6,174.0L170.5,177.9L166.6,181.8L162.7,177.9Z" fill="#3a7fbf"/>
<path d="M165.3,177.6L169.2,181.5L165.3,185.4L161.4,181.5Z" fill="#3a7fbf"/>
<path d="M170.1,173.5L174.0,177.4L170.1,181.3L166.2,177.4Z" fill="#3a7fbf"/>
<path d="M173.2,168.9L177.1,172.8L173.2,176.7L169.3,172.8Z" fill="#3a7fbf"/>
<path d="M166.0,173.7L169.9,177.6L166.0,181.5L162.1,177.6Z" fill="#3a7fbf"/>
<path d="M166.4,172.1L170.3,176.0L166.4,179.9L162.5,176.0Z" fill="#3a7fbf"/>
<path d="M175.2,170.0L179.1,173.9L175.2,177.8L171.3,173.9Z" fill="#3a7fbf"/>
<path d="M167.1,179.4L171.0,183.3L167.1,187.2L163.2,183.3Z" fill="#3a7fbf"/>
<path d="M171.2,173.7L175.1,177.6L171.2,181.5L167.3,177.6Z" fill="#3a7fbf"/>
<path d="M180.6,197.6L184.5,201.5L180.6,205.4L176.7,201.5Z" fill="#3a7fbf"/>
<path d="M186.6,199.4L190.5,203.3L186.6,207.2L182.7,203.3Z" fill="#3a7fbf"/>
<path d="M179.6,192.6L183.5,196.5L179.6,200.4L175.7,196.5Z" fill="#3a7fbf"/>
<path d="M179.1,192.6L183.0,196.5L179.1,200.4L175.2,196.5Z" fill="#3a7fbf"/>
<path d="M184.4,192.5L188.3,196.4L184.4,200.3L180.5,196.4Z" fill="#3a7fbf"/>
<path d="M181.1,194.8L185.0,198.7L181.1,202.6L177.2,198.7Z" fill="#3a7fbf"/>
<path d="M188.7,196.8L192.6,200.7L188.7,204.6L184.8,200.7Z" fill="#3a7fbf"/>
<path d="M177.2,193.1L181.1,197.0L177.2,200.9L173.3,197.0Z" fill="#3a7fbf"/>
<path d="M161.8,157.1L165.7,161.0L161.8,164.9L157.9,161.0Z" fill="#3a7fbf"/>
<path d="M168.2,160.6L172.1,164.5L168.2,168.4L164.3,164.5Z" fill="#3a7fbf"/>
<path d="M166.4,148.7L170.3,152.6L166.4,156.5L162.5,152.6Z" fill="#3a7fbf"/>
<path d="M188.0,196.1L191.9,200.0L188.0,203.9L184.1,200.0Z" fill="#3a7fbf"/>
<path d="M185.0,193.1L188.9,197.0L185.0,200.9L181.1,197.0Z" fill="#3a7fbf"/>
<path d="M163.5,195.1L167.4,199.0L163.5,202.9L159.6,199.0Z" fill="#55b3a5"/>
<path d="M189.0,177.1L192.9,181.0L189.0,184.9L185.1,181.0Z" fill="#55b3a5"/>
<path d="M191.0,178.6L194.9,182.5L191.0,186.4L187.1,182.5Z" fill="#55b3a5"/>
<path d="M184.0,194.1L187.9,198.0L184.0,201.9L180.1,198.0Z" fill="#55b3a5"/>
<rect x="172.8" y="186.8" width="6.4" height="6.4" fill="#d3ecb9"/>
<rect x="187.8" y="181.3" width="6.4" height="6.4" fill="#d3ecb9"/>
<rect x="140.3" y="201.3" width="6.4" height="6.4" fill="#d3ecb9"/>
<polygon points="334.6,240.9 336.8,242.5 336.0,245.1 333.2,245.1 332.4,242.5" fill="#cd3450"/>
<polygon points="334.6,246.5 336.8,248.1 336.0,250.7 333.2,250.7 332.4,248.1" fill="#cd3450"/>
<polygon points="336.0,252.9 338.2,254.5 337.4,257.1 334.6,257.1 333.8,254.5" fill="#cd3450"/>
<polygon points="330.5,259.0 332.7,260.6 331.9,263.2 329.1,263.2 328.3,260.6" fill="#cd3450"/>
<polygon points="351.3,243.7 353.5,245.3 352.7,247.9 349.9,247.9 349.1,245.3" fill="#cd3450"/>
<polygon points="356.8,241.8 359.0,243.4 358.2,246.0 355.4,246.0 354.6,243.4" fill="#cd3450"/>
<polygon points="361.0,241.8 363.2,243.4 362.4,246.0 359.6,246.0 358.8,243.4" fill="#cd3450"/>
<polygon points="331.9,256.5 334.1,258.1 333.3,260.7 330.5,260.7 329.7,258.1" fill="#cd3450"/>
<rect x="304.2" y="274.9" width="7.2" height="7.2" fill="#cd3450"/>
<rect x="297.8" y="284.0" width="7.2" height="7.2" fill="#cd3450"/>
<rect x="299.7" y="289.6" width="7.2" height="7.2" fill="#cd3450"/>
<rect x="296.4" y="281.4" width="7.2" height="7.2" fill="#cd3450"/>
<path d="M295.8,275.4L299.7,279.3L295.8,283.2L291.9,279.3Z" fill="#cd3450"/>
<path d="M285.6,282.3L289.5,286.2L285.6,290.1L281.7,286.2Z" fill="#cd3450"/>
<path d="M275.0,299.5L278.9,303.4L275.0,307.3L271.1,303.4Z" fill="#cd3450"/>
<path d="M268.1,305.1L272.0,309.0L268.1,312.9L264.2,309.0Z" fill="#cd3450"/>
<path d="M261.2,314.2L265.1,318.1L261.2,322.0L257.3,318.1Z" fill="#cd3450"/>
<path d="M250.1,326.1L254.0,330.0L250.1,333.9L246.2,330.0Z" fill="#cd3450"/>
<path d="M240.4,318.4L244.3,322.3L240.4,326.2L236.5,322.3Z" fill="#cd3450"/>
<path d="M250.4,325.1L254.3,329.0L250.4,332.9L246.5,329.0Z" fill="#cd3450"/>
<path d="M250.1,308.7L254.0,315.9L246.2,315.9Z" fill="#cd3450"/>
<path d="M257.0,305.1L260.9,312.3L253.1,312.3Z" fill="#cd3450"/>
<path d="M239.3,318.6L243.2,325.8L235.4,325.8Z" fill="#cd3450"/>
<path d="M243.2,319.9L247.1,327.1L239.3,327.1Z" fill="#cd3450"/>
<polygon points="269.5,304.8 272.9,307.3 271.6,311.3 267.4,311.3 266.1,307.3" fill="#cd3450"/>
<polygon points="272.0,302.9 275.4,305.4 274.1,309.4 269.9,309.4 268.6,305.4" fill="#cd3450"/>
<circle cx="288.9" cy="289.5" r="2.1" fill="#3a7fbf"/>
<circle cx="291.7" cy="287.6" r="2.1" fill="#3a7fbf"/>
<circle cx="287.5" cy="300.6" r="2.1" fill="#3a7fbf"/>
<circle cx="293.1" cy="297.9" r="2.1" fill="#3a7fbf"/>
<circle cx="297.2" cy="293.2" r="2.1" fill="#3a7fbf"/>
<circle cx="305.5" cy="282.9" r="2.1" fill="#3a7fbf"/>
<circle cx="234.5" cy="330.3" r="2.1" fill="#3a7fbf"/>
<circle cx="225.5" cy="334.5" r="2.1" fill="#3a7fbf"/>
<circle cx="226.2" cy="339.1" r="2.1" fill="#3a7fbf"/>
<circle cx="235.2" cy="351.8" r="2.1" fill="#3a7fbf"/>
<circle cx="236.6" cy="354.6" r="2.1" fill="#3a7fbf"/>
<circle cx="286.1" cy="318.1" r="2.1" fill="#55b3a5"/>
<circle cx="223.4" cy="351.1" r="2.1" fill="#55b3a5"/>
<circle cx="224.8" cy="353.9" r="2.1" fill="#55b3a5"/>
<rect x="204.6" y="339.2" width="7.2" height="7.2" fill="#8bd0af"/>
<circle cx="205.4" cy="356.0" r="2.1" fill="#d3ecb9"/>
<circle cx="197.5" cy="398.1" r="2.1" fill="#5b4aa1"/>
<circle cx="201.1" cy="397.2" r="2.1" fill="#5b4aa1"/>
<circle cx="201.4" cy="401.3" r="2.1" fill="#5b4aa1"/>
<path d="M119.4,444.7L123.3,448.6L119.4,452.5L115.5,448.6Z" fill="#5b4aa1"/>
<path d="M124.8,443.5L128.7,447.4L124.8,451.3L120.9,447.4Z" fill="#5b4aa1"/>
<path d="M133.1,439.1L137.0,443.0L133.1,446.9L129.2,443.0Z" fill="#5b4aa1"/>
<path d="M121.0,446.1L124.9,450.0L121.0,453.9L117.1,450.0Z" fill="#5b4aa1"/>
<path d="M136.1,429.9L140.0,437.1L132.2,437.1Z" fill="#5b4aa1"/>
<path d="M139.6,428.1L143.5,435.3L135.7,435.3Z" fill="#5b4aa1"/>
<path d="M153.4,381.0L157.3,388.2L149.5,388.2Z" fill="#8bd0af"/>
<path d="M188.6,366.7L192.5,370.6L188.6,374.5L184.7,370.6Z" fill="#8bd0af"/>
<path d="M157.2,388.0L161.1,395.2L153.3,395.2Z" fill="#8bd0af"/>
<rect x="197.1" y="350.4" width="6.8" height="6.8" fill="#8bd0af"/>
<rect x="149.2" y="390.2" width="6.8" height="6.8" fill="#8bd0af"/>
<path d="M150.4,397.2L154.3,404.4L146.5,404.4Z" fill="#8bd0af"/>
<rect x="171.6" y="372.1" width="6.8" height="6.8" fill="#8bd0af"/>
<rect x="202.5" y="350.6" width="6.8" height="6.8" fill="#8bd0af"/>
<path d="M199.5,348.3L203.4,355.5L195.6,355.5Z" fill="#8bd0af"/>
<rect x="199.6" y="348.3" width="6.8" height="6.8" fill="#8bd0af"/>
<path d="M178.2,367.5L182.1,374.7L174.3,374.7Z" fill="#8bd0af"/>
<path d="M167.0,374.7L170.9,381.9L163.1,381.9Z" fill="#8bd0af"/>
<path d="M206.7,345.1L210.6,352.4L202.8,352.4Z" fill="#8bd0af"/>
<path d="M173.0,373.6L176.9,380.8L169.1,380.8Z" fill="#8bd0af"/>
<rect x="205.5" y="343.7" width="6.8" height="6.8" fill="#8bd0af"/>
<rect x="148.2" y="393.6" width="6.8" height="6.8" fill="#8bd0af"/>
<path d="M181.4,356.2L185.3,360.1L181.4,364.0L177.5,360.1Z" fill="#55b3a5"/>
<rect x="165.9" y="382.9" width="6.8" height="6.8" fill="#d3ecb9"/>
<rect x="150.7" y="383.0" width="6.8" height="6.8" fill="#8bd0af"/>
<path d="M160.0,381.5L163.9,388.7L156.1,388.7Z" fill="#d3ecb9"/>
<rect x="175.3" y="372.0" width="6.8" height="6.8" fill="#d3ecb9"/>
<rect x="208.7" y="341.3" width="6.8" height="6.8" fill="#8bd0af"/>
<rect x="182.7" y="369.2" width="6.8" height="6.8" fill="#d3ecb9"/>
<path d="M164.3,381.7L168.2,388.9L160.4,388.9Z" fill="#d3ecb9"/>
<rect x="177.0" y="372.7" width="6.8" height="6.8" fill="#8bd0af"/>
<path d="M146.5,389.5L150.4,396.7L142.6,396.7Z" fill="#d3ecb9"/>
<rect x="185.9" y="364.7" width="6.8" height="6.8" fill="#d3ecb9"/>
<path d="M179.8,360.6L183.7,364.5L179.8,368.4L175.9,364.5Z" fill="#8bd0af"/>
<path d="M159.5,382.0L163.4,389.2L155.6,389.2Z" fill="#8bd0af"/>
<rect x="166.5" y="367.7" width="6.8" height="6.8" fill="#d3ecb9"/>
<path d="M169.9,375.9L173.8,379.8L169.9,383.7L166.0,379.8Z" fill="#8bd0af"/>
<rect x="145.7" y="399.6" width="6.8" height="6.8" fill="#8bd0af"/>
<path d="M193.8,348.1L197.7,352.0L193.8,355.9L189.9,352.0Z" fill="#8bd0af"/>
<path d="M166.1,377.7L170.0,384.9L162.2,384.9Z" fill="#8bd0af"/>
<path d="M192.1,351.8L196.0,359.1L188.2,359.1Z" fill="#d3ecb9"/>
<path d="M160.1,391.6L164.0,398.8L156.2,398.8Z" fill="#8bd0af"/>
<path d="M173.8,376.1L177.7,383.3L169.9,383.3Z" fill="#d3ecb9"/>
<rect x="190.1" y="350.9" width="6.8" height="6.8" fill="#8bd0af"/>
<rect x="143.6" y="395.8" width="6.8" height="6.8" fill="#8bd0af"/>
<path d="M187.5,366.1L191.4,373.4L183.6,373.4Z" fill="#8bd0af"/>
<path d="M201.0,357.1L204.9,364.3L197.1,364.3Z" fill="#8bd0af"/>
<path d="M163.3,376.7L167.2,380.6L163.3,384.5L159.4,380.6Z" fill="#8bd0af"/>
<rect x="204.4" y="339.4" width="6.8" height="6.8" fill="#d3ecb9"/>
<rect x="188.5" y="347.5" width="6.8" height="6.8" fill="#d3ecb9"/>
<path d="M171.6,381.1L175.5,388.3L167.7,388.3Z" fill="#8bd0af"/>
<rect x="143.5" y="390.9" width="6.8" height="6.8" fill="#8bd0af"/>
<path d="M167.4,370.3L171.3,374.2L167.4,378.1L163.5,374.2Z" fill="#8bd0af"/>
<path d="M153.2,392.0L157.1,399.2L149.3,399.2Z" fill="#8bd0af"/>
<rect x="188.6" y="349.4" width="6.8" height="6.8" fill="#8bd0af"/>
<path d="M167.4,375.8L171.3,383.0L163.5,383.0Z" fill="#d3ecb9"/>
<rect x="203.7" y="348.7" width="6.8" height="6.8" fill="#8bd0af"/>
<rect x="169.3" y="374.1" width="6.8" height="6.8" fill="#8bd0af"/>
<path d="M172.8,377.7L176.7,381.6L172.8,385.5L168.9,381.6Z" fill="#8bd0af"/>
<path d="M189.8,351.3L193.7,358.5L185.9,358.5Z" fill="#d3ecb9"/>
<path d="M181.3,365.3L185.2,372.5L177.4,372.5Z" fill="#8bd0af"/>
<rect x="175.1" y="366.0" width="6.8" height="6.8" fill="#8bd0af"/>
<rect x="166.8" y="377.3" width="6.8" height="6.8" fill="#8bd0af"/>
<rect x="207.2" y="348.1" width="6.8" height="6.8" fill="#d3ecb9"/>
<rect x="199.9" y="352.6" width="6.8" height="6.8" fill="#d3ecb9"/>
<path d="M192.2,354.2L196.1,361.4L188.3,361.4Z" fill="#8bd0af"/>
<rect x="153.9" y="381.3" width="6.8" height="6.8" fill="#d3ecb9"/>
<rect x="162.7" y="378.7" width="6.8" height="6.8" fill="#8bd0af"/>
<path d="M193.2,362.2L197.1,369.4L189.3,369.4Z" fill="#8bd0af"/>
<rect x="146.8" y="394.5" width="6.8" height="6.8" fill="#8bd0af"/>
<rect x="170.9" y="368.6" width="6.8" height="6.8" fill="#8bd0af"/>
<path d="M175.3,369.0L179.2,376.3L171.4,376.3Z" fill="#8bd0af"/>
<rect x="154.4" y="388.3" width="6.8" height="6.8" fill="#d3ecb9"/>
<path d="M153.4,388.4L157.3,392.3L153.4,396.2L149.5,392.3Z" fill="#8bd0af"/>
<path d="M156.2,381.7L160.1,385.6L156.2,389.5L152.3,385.6Z" fill="#8bd0af"/>
<rect x="164.4" y="388.0" width="6.8" height="6.8" fill="#d3ecb9"/>
<path d="M210.5,339.5L214.4,343.4L210.5,347.3L206.6,343.4Z" fill="#55b3a5"/>
<rect x="169.5" y="381.6" width="6.8" height="6.8" fill="#8bd0af"/>
<rect x="184.7" y="366.8" width="6.8" height="6.8" fill="#d3ecb9"/>
<path d="M182.7,358.8L186.6,362.7L182.7,366.6L178.8,362.7Z" fill="#8bd0af"/>
<path d="M155.0,396.2L158.9,403.4L151.1,403.4Z" fill="#8bd0af"/>
<rect x="187.6" y="350.3" width="6.8" height="6.8" fill="#8bd0af"/>
<rect x="186.4" y="365.2" width="6.8" height="6.8" fill="#8bd0af"/>
<rect x="201.1" y="344.5" width="6.8" height="6.8" fill="#8bd0af"/>
<rect x="203.5" y="351.3" width="6.8" height="6.8" fill="#8bd0af"/>
<path d="M187.9,352.7L191.8,359.9L184.0,359.9Z" fill="#8bd0af"/>
<rect x="157.6" y="388.6" width="6.8" height="6.8" fill="#d3ecb9"/>
<path d="M173.3,379.3L177.2,383.2L173.3,387.1L169.4,383.2Z" fill="#8bd0af"/>
<path d="M194.4,362.2L198.3,369.4L190.5,369.4Z" fill="#8bd0af"/>
<path d="M170.4,383.6L174.3,390.9L166.5,390.9Z" fill="#8bd0af"/>
<rect x="184.5" y="355.9" width="6.8" height="6.8" fill="#8bd0af"/>
<path d="M161.9,387.4L165.8,391.3L161.9,395.2L158.0,391.3Z" fill="#55b3a5"/>
<path d="M201.2,345.9L205.1,353.1L197.3,353.1Z" fill="#8bd0af"/>
<path d="M184.0,371.8L187.9,379.0L180.1,379.0Z" fill="#d3ecb9"/>
<path d="M195.7,350.7L199.6,357.9L191.8,357.9Z" fill="#8bd0af"/>
<rect x="196.4" y="347.3" width="6.8" height="6.8" fill="#d3ecb9"/>
<path d="M150.0,388.8L153.9,396.0L146.1,396.0Z" fill="#d3ecb9"/>
<rect x="142.3" y="399.3" width="6.8" height="6.8" fill="#d3ecb9"/>
<path d="M184.1,358.8L188.0,366.0L180.2,366.0Z" fill="#8bd0af"/>
<path d="M186.5,361.2L190.4,365.1L186.5,369.0L182.6,365.1Z" fill="#8bd0af"/>
<path d="M198.3,349.4L202.2,353.3L198.3,357.2L194.4,353.3Z" fill="#55b3a5"/>
<path d="M180.1,381.8L184.0,385.7L180.1,389.6L176.2,385.7Z" fill="#3a7fbf"/>
<path d="M188.2,378.6L192.1,382.5L188.2,386.4L184.3,382.5Z" fill="#3a7fbf"/>
<path d="M190.6,381.0L194.5,384.9L190.6,388.8L186.7,384.9Z" fill="#55b3a5"/>
<path d="M186.9,388.4L190.8,392.3L186.9,396.2L183.0,392.3Z" fill="#3a7fbf"/>
<path d="M181.7,389.2L185.6,393.1L181.7,397.0L177.8,393.1Z" fill="#3a7fbf"/>
<path d="M166.8,398.9L170.7,402.8L166.8,406.7L162.9,402.8Z" fill="#55b3a5"/>
<path d="M168.6,394.0L172.5,401.2L164.7,401.2Z" fill="#3a7fbf"/>
<path d="M162.8,395.2L166.7,399.1L162.8,403.0L158.9,399.1Z" fill="#3a7fbf"/>
<path d="M180.7,377.3L184.6,381.2L180.7,385.1L176.8,381.2Z" fill="#55b3a5"/>
<path d="M159.1,398.0L163.0,401.9L159.1,405.8L155.2,401.9Z" fill="#3a7fbf"/>
<path d="M175.2,386.6L179.1,390.5L175.2,394.4L171.3,390.5Z" fill="#3a7fbf"/>
<path d="M171.9,390.6L175.8,394.5L171.9,398.4L168.0,394.5Z" fill="#3a7fbf"/>
<path d="M189.2,380.7L193.1,387.9L185.3,387.9Z" fill="#3a7fbf"/>
<path d="M170.7,388.4L174.6,392.3L170.7,396.2L166.8,392.3Z" fill="#55b3a5"/>
<path d="M168.1,388.8L172.0,392.7L168.1,396.6L164.2,392.7Z" fill="#3a7fbf"/>
<path d="M176.5,384.2L180.4,388.1L176.5,392.0L172.6,388.1Z" fill="#55b3a5"/>
<path d="M180.9,386.9L184.8,390.8L180.9,394.7L177.0,390.8Z" fill="#3a7fbf"/>
<path d="M170.1,384.2L174.0,388.1L170.1,392.0L166.2,388.1Z" fill="#3a7fbf"/>
<path d="M188.4,376.9L192.3,380.8L188.4,384.7L184.5,380.8Z" fill="#55b3a5"/>
<path d="M176.6,381.9L180.5,385.8L176.6,389.7L172.7,385.8Z" fill="#55b3a5"/>
<path d="M169.2,382.1L173.1,386.0L169.2,389.9L165.3,386.0Z" fill="#3a7fbf"/>
<path d="M176.2,394.4L180.1,401.6L172.3,401.6Z" fill="#3a7fbf"/>
<rect x="188.5" y="394.0" width="6.8" height="6.8" fill="#8bd0af"/>
<rect x="177.1" y="399.8" width="6.8" height="6.8" fill="#8bd0af"/>
<path d="M166.4,399.8L170.3,403.7L166.4,407.6L162.5,403.7Z" fill="#3a7fbf"/>
<path d="M185.0,399.3L188.9,403.2L185.0,407.1L181.1,403.2Z" fill="#3a7fbf"/>
<path d="M186.9,398.4L190.8,402.3L186.9,406.2L183.0,402.3Z" fill="#3a7fbf"/>
<path d="M176.0,404.3L179.9,408.2L176.0,412.1L172.1,408.2Z" fill="#3a7fbf"/>
<path d="M180.4,399.7L184.3,403.6L180.4,407.5L176.5,403.6Z" fill="#3a7fbf"/>
<path d="M182.4,395.2L186.3,399.1L182.4,403.0L178.5,399.1Z" fill="#55b3a5"/>
<path d="M189.0,395.4L192.9,399.3L189.0,403.2L185.1,399.3Z" fill="#3a7fbf"/>
<path d="M170.6,398.4L174.5,402.3L170.6,406.2L166.7,402.3Z" fill="#3a7fbf"/>
<rect x="186.1" y="396.6" width="6.8" height="6.8" fill="#8bd0af"/>
<path d="M158.9,405.9L162.8,409.8L158.9,413.7L155.0,409.8Z" fill="#3a7fbf"/>
<path d="M186.5,398.0L190.4,401.9L186.5,405.8L182.6,401.9Z" fill="#3a7fbf"/>
<rect x="172.3" y="395.9" width="6.8" height="6.8" fill="#8bd0af"/>
<rect x="146.8" y="370.5" width="7.0" height="7.0" fill="#d3ecb9"/>
<path d="M143.8,408.7L147.7,415.9L139.9,415.9Z" fill="#d3ecb9"/>
<path d="M150.7,404.5L154.6,411.7L146.8,411.7Z" fill="#d3ecb9"/>
</g>
<g id="dataB">
<ellipse cx="477.6" cy="107.1" rx="52.7" ry="23.5" transform="rotate(31 477.6 107.1)" fill="#c9f2c0" fill-opacity="0.7" stroke="#5ccf4f" stroke-width="1" stroke-dasharray="2,2"/>
<ellipse cx="495" cy="157" rx="36.5" ry="31.5" transform="rotate(-10 495 157)" fill="#fbd9d9" fill-opacity="0.55" stroke="#e57373" stroke-width="1" stroke-dasharray="2,2"/>
<ellipse cx="580" cy="103.5" rx="47.5" ry="19" transform="rotate(-13 580 103.5)" fill="#fde5cc" fill-opacity="0.55" stroke="#f5b26b" stroke-width="1" stroke-dasharray="2,2"/>
<path d="M462.6,72.7L464.8,76.7L460.4,76.7Z" fill="#2fcf2f" opacity="0.85"/>
<path d="M466.1,77.3L468.3,81.3L463.9,81.3Z" fill="#2fcf2f" opacity="0.85"/>
<path d="M447.7,87.7L449.9,91.7L445.5,91.7Z" fill="#2fcf2f" opacity="0.68"/>
<path d="M451.2,110.6L453.4,114.6L449.0,114.6Z" fill="#2fcf2f" opacity="0.68"/>
<path d="M453.5,114.1L455.7,118.1L451.3,118.1Z" fill="#2fcf2f" opacity="0.68"/>
<path d="M513.2,102.6L515.4,106.6L511.0,106.6Z" fill="#2fcf2f" opacity="0.765"/>
<path d="M522.4,112.5L524.6,116.5L520.2,116.5Z" fill="#2fcf2f" opacity="0.765"/>
<path d="M500.6,124.4L502.8,128.4L498.4,128.4Z" fill="#2fcf2f" opacity="0.595"/>
<path d="M476.0,107.2L478.2,111.2L473.8,111.2Z" fill="#2fcf2f" opacity="0.425"/>
<path d="M481.0,109.8L483.2,113.8L478.8,113.8Z" fill="#2fcf2f" opacity="0.425"/>
<line x1="458.0" y1="89.9" x2="486.0" y2="105.5" stroke="#22bb22" stroke-width="2.4" stroke-dasharray="2,1.5" opacity="1"/>
<polygon points="497.0,110.5 485.0,103.0 484.0,110.5" fill="#22bb22" opacity="1.0"/>
<text transform="translate(463.0,108.5) scale(1,1.1) rotate(35.4)" font-size="9.5" font-weight="bold" text-anchor="middle" dy="0.34em" fill="#7ad77a" opacity="0.8">Mar6AM</text>
<circle cx="477.6" cy="133.5" r="4.3" fill="none" stroke="#d9534f" stroke-width="0.85" opacity="0.55"/>
<circle cx="485.6" cy="135.8" r="4.3" fill="none" stroke="#d9534f" stroke-width="0.85" opacity="0.55"/>
<circle cx="489.0" cy="128.9" r="4.3" fill="none" stroke="#d9534f" stroke-width="0.85" opacity="0.55"/>
<circle cx="483.3" cy="126.6" r="4.3" fill="none" stroke="#d9534f" stroke-width="0.85" opacity="0.55"/>
<circle cx="499.9" cy="146.1" r="4.3" fill="none" stroke="#d9534f" stroke-width="0.85" opacity="0.55"/>
<circle cx="514.3" cy="143.9" r="4.3" fill="none" stroke="#d9534f" stroke-width="0.85" opacity="0.55"/>
<circle cx="463.8" cy="154.2" r="4.3" fill="none" stroke="#d9534f" stroke-width="0.85" opacity="0.55"/>
<circle cx="469.5" cy="158.8" r="4.3" fill="none" stroke="#d9534f" stroke-width="0.85" opacity="0.55"/>
<circle cx="476.4" cy="151.9" r="4.3" fill="none" stroke="#d9534f" stroke-width="0.85" opacity="0.55"/>
<circle cx="489.0" cy="154.2" r="4.3" fill="none" stroke="#d9534f" stroke-width="0.85" opacity="0.55"/>
<circle cx="515.5" cy="154.2" r="4.3" fill="none" stroke="#d9534f" stroke-width="0.85" opacity="0.55"/>
<circle cx="526.5" cy="157.6" r="4.3" fill="none" stroke="#d9534f" stroke-width="0.85" opacity="0.55"/>
<circle cx="524.7" cy="150.7" r="4.3" fill="none" stroke="#d9534f" stroke-width="0.85" opacity="0.55"/>
<circle cx="462.6" cy="151.9" r="4.3" fill="none" stroke="#d9534f" stroke-width="0.85" opacity="0.55"/>
<circle cx="479.9" cy="150.7" r="4.3" fill="none" stroke="#d9534f" stroke-width="0.85" opacity="0.55"/>
<circle cx="460.4" cy="163.4" r="4.3" fill="none" stroke="#d9534f" stroke-width="0.85" opacity="0.55"/>
<circle cx="464.9" cy="164.5" r="4.3" fill="none" stroke="#d9534f" stroke-width="0.85" opacity="0.55"/>
<circle cx="473.0" cy="163.4" r="4.3" fill="none" stroke="#d9534f" stroke-width="0.85" opacity="0.55"/>
<circle cx="483.3" cy="165.6" r="4.3" fill="none" stroke="#d9534f" stroke-width="0.85" opacity="0.55"/>
<circle cx="492.5" cy="169.1" r="4.3" fill="none" stroke="#d9534f" stroke-width="0.85" opacity="0.55"/>
<circle cx="517.8" cy="173.7" r="4.3" fill="none" stroke="#d9534f" stroke-width="0.85" opacity="0.55"/>
<circle cx="474.1" cy="171.4" r="4.3" fill="none" stroke="#d9534f" stroke-width="0.85" opacity="0.55"/>
<circle cx="476.4" cy="177.1" r="4.3" fill="none" stroke="#d9534f" stroke-width="0.85" opacity="0.55"/>
<circle cx="481.0" cy="176.0" r="4.3" fill="none" stroke="#d9534f" stroke-width="0.85" opacity="0.55"/>
<circle cx="483.3" cy="180.6" r="4.3" fill="none" stroke="#d9534f" stroke-width="0.85" opacity="0.55"/>
<circle cx="496.0" cy="182.2" r="4.3" fill="none" stroke="#d9534f" stroke-width="0.85" opacity="0.55"/>
<circle cx="471.8" cy="181.7" r="4.3" fill="none" stroke="#d9534f" stroke-width="0.85" opacity="0.55"/>
<circle cx="530.4" cy="124.3" r="4.3" fill="none" stroke="#d9534f" stroke-width="0.85" opacity="0.55"/>
<circle cx="524.2" cy="85.7" r="4.3" fill="none" stroke="#d9534f" stroke-width="0.85" opacity="0.55"/>
<circle cx="468.0" cy="140.0" r="4.3" fill="none" stroke="#d9534f" stroke-width="0.85" opacity="0.55"/>
<circle cx="505.0" cy="165.0" r="4.3" fill="none" stroke="#d9534f" stroke-width="0.85" opacity="0.55"/>
<circle cx="470.0" cy="128.0" r="4.3" fill="none" stroke="#d9534f" stroke-width="0.85" opacity="0.55"/>
<circle cx="471.8" cy="188.6" r="4.3" fill="none" stroke="#d42424" stroke-width="2.0" opacity="1"/>
<path d="M498.3,172.9L500.7,175.3L498.3,177.7L495.9,175.3Z" fill="none" stroke="#c0504d" stroke-width="0.8" opacity="0.8"/>
<path d="M502.2,174.3L504.6,176.7L502.2,179.1L499.8,176.7Z" fill="none" stroke="#c0504d" stroke-width="0.8" opacity="0.8"/>
<line x1="521.4" y1="126.1" x2="558.4" y2="74.1" stroke="#ee5555" stroke-width="1.6" stroke-dasharray="1.4,1.4" opacity="0.85"/>
<line x1="524.0" y1="128.0" x2="561.0" y2="76.0" stroke="#ee5555" stroke-width="1.6" stroke-dasharray="1.4,1.4" opacity="0.85"/>
<line x1="526.6" y1="129.9" x2="563.6" y2="77.9" stroke="#ee5555" stroke-width="1.6" stroke-dasharray="1.4,1.4" opacity="0.85"/>
<polygon points="502.9,143.9 510.9,127.5 521.5,134.7" fill="#f06666" opacity="0.85"/>
<polygon points="578.2,62.8 564.0,72.5 570.0,79.5" fill="#f03030" opacity="0.75"/>
<circle cx="567" cy="76" r="3.3" fill="#ee2020"/>
<path d="M566.3,55.0L569.1,57.8L566.3,60.6L563.5,57.8Z" fill="none" stroke="#c0504d" stroke-width="0.8" opacity="0.8"/>
<path d="M574.9,50.7L577.7,53.5L574.9,56.3L572.1,53.5Z" fill="none" stroke="#c0504d" stroke-width="0.8" opacity="0.8"/>
<path d="M578.5,60.0L581.3,62.8L578.5,65.6L575.7,62.8Z" fill="none" stroke="#c0504d" stroke-width="0.8" opacity="0.8"/>
<path d="M568.3,64.9L571.1,67.7L568.3,70.5L565.5,67.7Z" fill="none" stroke="#c0504d" stroke-width="0.8" opacity="0.8"/>
<path d="M571.5,54.2L574.3,57.0L571.5,59.8L568.7,57.0Z" fill="none" stroke="#c0504d" stroke-width="0.8" opacity="0.8"/>
<circle cx="550.5" cy="103.4" r="4.3" fill="none" stroke="#d9534f" stroke-width="0.9" opacity="0.75"/>
<circle cx="551.1" cy="111.3" r="4.3" fill="none" stroke="#d9534f" stroke-width="0.9" opacity="0.75"/>
<circle cx="530.7" cy="124.8" r="4.3" fill="none" stroke="#d9534f" stroke-width="0.9" opacity="0.75"/>
<circle cx="536.0" cy="116.0" r="4.3" fill="none" stroke="#d9534f" stroke-width="0.9" opacity="0.75"/>
<circle cx="545.0" cy="108.0" r="4.3" fill="none" stroke="#d9534f" stroke-width="0.9" opacity="0.75"/>
<text transform="translate(565.5,88.0) scale(1,1.1) rotate(-44.3)" font-size="8.8" font-weight="bold" text-anchor="middle" dy="0.34em" fill="#e33b3b">Mar6PM</text>
<circle cx="541.9" cy="101.4" r="4.0" fill="none" stroke="#f08c28" stroke-width="1.6" opacity="0.85"/>
<circle cx="543.0" cy="117.4" r="4.0" fill="none" stroke="#f08c28" stroke-width="1.6" opacity="0.85"/>
<circle cx="547.6" cy="120.9" r="4.0" fill="none" stroke="#f08c28" stroke-width="1.6" opacity="0.85"/>
<circle cx="572.6" cy="98.4" r="4.0" fill="none" stroke="#f08c28" stroke-width="1.6" opacity="0.85"/>
<circle cx="573.0" cy="103.2" r="4.0" fill="none" stroke="#f08c28" stroke-width="1.6" opacity="0.85"/>
<circle cx="614.5" cy="88.0" r="4.0" fill="none" stroke="#f08c28" stroke-width="1.6" opacity="0.85"/>
<circle cx="614.5" cy="97.7" r="4.0" fill="none" stroke="#f08c28" stroke-width="1.6" opacity="0.85"/>
<circle cx="611.9" cy="99.9" r="4.0" fill="none" stroke="#f08c28" stroke-width="1.6" opacity="0.85"/>
<text transform="translate(560.8,116.3) scale(1,1.08)" font-size="9.6" fill="#f3c189">Mar7AM</text>
<text transform="translate(527.0,189.5) scale(1,1.1) rotate(-47.3)" font-size="8.8" font-weight="bold" text-anchor="middle" dy="0.34em" fill="#e04848">Mar6evening</text>
<ellipse cx="575.5" cy="257.8" rx="57.9" ry="10.5" transform="rotate(-1 575.5 257.8)" fill="#fde5cc" fill-opacity="0.6" stroke="#f5b26b" stroke-width="1" stroke-dasharray="2,2"/>
<ellipse cx="484.5" cy="378" rx="41.4" ry="27" transform="rotate(-8 484.5 378)" fill="#c9f2c0" fill-opacity="0.7" stroke="#5ccf4f" stroke-width="1" stroke-dasharray="2,2"/>
<ellipse cx="500.5" cy="370.3" rx="36.8" ry="30.1" transform="rotate(-10 500.5 370.3)" fill="#fbd9d9" fill-opacity="0.6" stroke="#e57373" stroke-width="1" stroke-dasharray="2,2"/>
<circle cx="541.3" cy="251.0" r="4.0" fill="none" stroke="#f08c28" stroke-width="1.6" opacity="0.85"/>
<circle cx="544.2" cy="255.7" r="4.0" fill="none" stroke="#f08c28" stroke-width="1.6" opacity="0.85"/>
<circle cx="548.0" cy="260.5" r="4.0" fill="none" stroke="#f08c28" stroke-width="1.6" opacity="0.85"/>
<circle cx="567.9" cy="250.6" r="4.0" fill="none" stroke="#f08c28" stroke-width="1.6" opacity="0.85"/>
<circle cx="572.6" cy="252.9" r="4.0" fill="none" stroke="#f08c28" stroke-width="1.6" opacity="0.85"/>
<circle cx="614.4" cy="257.6" r="4.0" fill="none" stroke="#f08c28" stroke-width="1.6" opacity="0.85"/>
<circle cx="612.5" cy="262.4" r="4.0" fill="none" stroke="#f08c28" stroke-width="1.6" opacity="0.85"/>
<text transform="translate(526,245.3) scale(1,1.08)" font-size="9.6" fill="#f0ac68">Mar7AM</text>
<line x1="535.9" y1="316.8" x2="556.4" y2="278.4" stroke="#f4a24f" stroke-width="1.8" stroke-dasharray="1.5,1.3" opacity="0.9"/>
<line x1="538.1" y1="318.0" x2="558.6" y2="279.6" stroke="#f4a24f" stroke-width="1.8" stroke-dasharray="1.5,1.3" opacity="0.9"/>
<polygon points="565.6,264.1 552.5,279.5 563.0,284.0" fill="#f6ad63" opacity="0.95"/>
<line x1="527.5" y1="345.0" x2="577.5" y2="289.2" stroke="#ee5555" stroke-width="1.6" stroke-dasharray="1.4,1.4" opacity="0.85"/>
<line x1="530.0" y1="347.3" x2="580.0" y2="291.5" stroke="#ee5555" stroke-width="1.6" stroke-dasharray="1.4,1.4" opacity="0.85"/>
<line x1="532.5" y1="349.6" x2="582.5" y2="293.8" stroke="#ee5555" stroke-width="1.6" stroke-dasharray="1.4,1.4" opacity="0.85"/>
<polygon points="588.6,277.9 573.5,287.0 582.0,293.5" fill="#f06666" opacity="0.95"/>
<polygon points="515.6,357.9 519.2,343.1 527.5,350.2" fill="#f06666" opacity="0.85"/>
<path d="M453.5,378.1L456.3,383.1L450.7,383.1Z" fill="#2fcf2f" opacity="1"/>
<path d="M463.8,383.8L466.6,388.8L461.0,388.8Z" fill="#2fcf2f" opacity="1"/>
<path d="M513.2,378.1L516.0,383.1L510.4,383.1Z" fill="#2fcf2f" opacity="0.9"/>
<path d="M494.8,352.8L497.6,357.8L492.0,357.8Z" fill="#2fcf2f" opacity="0.7"/>
<path d="M501.7,350.5L504.5,355.5L498.9,355.5Z" fill="#2fcf2f" opacity="0.7"/>
<path d="M476.4,378.1L479.2,383.1L473.6,383.1Z" fill="#2fcf2f" opacity="0.6"/>
<path d="M500.0,392.2L502.8,397.2L497.2,397.2Z" fill="#2fcf2f" opacity="0.8"/>
<path d="M511.0,393.2L513.8,398.2L508.2,398.2Z" fill="#2fcf2f" opacity="0.9"/>
<circle cx="521.2" cy="394.7" r="2" fill="#22cc22"/>
<circle cx="471.8" cy="357.9" r="3.3" fill="none" stroke="#d07a70" stroke-width="0.85" opacity="0.55"/>
<circle cx="477.6" cy="360.2" r="3.3" fill="none" stroke="#d07a70" stroke-width="0.85" opacity="0.55"/>
<circle cx="474.1" cy="369.4" r="3.3" fill="none" stroke="#d07a70" stroke-width="0.85" opacity="0.55"/>
<circle cx="481.0" cy="375.1" r="3.3" fill="none" stroke="#d07a70" stroke-width="0.85" opacity="0.55"/>
<circle cx="485.6" cy="377.4" r="3.3" fill="none" stroke="#d07a70" stroke-width="0.85" opacity="0.55"/>
<circle cx="494.8" cy="369.4" r="3.3" fill="none" stroke="#d07a70" stroke-width="0.85" opacity="0.55"/>
<circle cx="493.7" cy="386.6" r="3.3" fill="none" stroke="#d07a70" stroke-width="0.85" opacity="0.55"/>
<circle cx="499.4" cy="383.2" r="3.3" fill="none" stroke="#d07a70" stroke-width="0.85" opacity="0.55"/>
<circle cx="515.5" cy="376.3" r="3.3" fill="none" stroke="#d07a70" stroke-width="0.85" opacity="0.55"/>
<circle cx="517.8" cy="362.5" r="3.3" fill="none" stroke="#d07a70" stroke-width="0.85" opacity="0.55"/>
<circle cx="524.7" cy="364.8" r="3.3" fill="none" stroke="#d07a70" stroke-width="0.85" opacity="0.55"/>
<circle cx="523.5" cy="355.6" r="3.3" fill="none" stroke="#d07a70" stroke-width="0.85" opacity="0.55"/>
<circle cx="531.6" cy="357.9" r="3.3" fill="none" stroke="#d07a70" stroke-width="0.85" opacity="0.55"/>
<circle cx="464.9" cy="382.0" r="3.3" fill="none" stroke="#d07a70" stroke-width="0.85" opacity="0.55"/>
<circle cx="463.8" cy="395.8" r="3.3" fill="none" stroke="#d07a70" stroke-width="0.85" opacity="0.55"/>
<circle cx="474.1" cy="391.2" r="3.3" fill="none" stroke="#d07a70" stroke-width="0.85" opacity="0.55"/>
<circle cx="487.9" cy="393.5" r="3.3" fill="none" stroke="#d07a70" stroke-width="0.85" opacity="0.55"/>
<circle cx="460.4" cy="388.9" r="3.3" fill="none" stroke="#d07a70" stroke-width="0.85" opacity="0.55"/>
<circle cx="478.7" cy="366.0" r="3.3" fill="none" stroke="#d07a70" stroke-width="0.85" opacity="0.55"/>
<circle cx="517.8" cy="345.3" r="3.3" fill="none" stroke="#d07a70" stroke-width="0.85" opacity="0.55"/>
<circle cx="505.0" cy="372.0" r="3.3" fill="none" stroke="#d07a70" stroke-width="0.85" opacity="0.55"/>
<circle cx="490.0" cy="360.0" r="3.3" fill="none" stroke="#d07a70" stroke-width="0.85" opacity="0.55"/>
<circle cx="466.0" cy="370.0" r="3.3" fill="none" stroke="#d07a70" stroke-width="0.85" opacity="0.55"/>
<circle cx="508.0" cy="388.0" r="3.3" fill="none" stroke="#d07a70" stroke-width="0.85" opacity="0.55"/>
<circle cx="482.0" cy="384.0" r="3.3" fill="none" stroke="#d07a70" stroke-width="0.85" opacity="0.55"/>
<circle cx="470.0" cy="378.0" r="3.3" fill="none" stroke="#d07a70" stroke-width="0.85" opacity="0.55"/>
<circle cx="497.0" cy="376.0" r="3.3" fill="none" stroke="#d07a70" stroke-width="0.85" opacity="0.55"/>
<circle cx="485.0" cy="368.0" r="3.3" fill="none" stroke="#d07a70" stroke-width="0.85" opacity="0.55"/>
<circle cx="512.0" cy="368.0" r="3.3" fill="none" stroke="#d07a70" stroke-width="0.85" opacity="0.55"/>
<circle cx="526.0" cy="351.0" r="3.3" fill="none" stroke="#d07a70" stroke-width="0.85" opacity="0.55"/>
<circle cx="528.0" cy="361.0" r="3.3" fill="none" stroke="#d07a70" stroke-width="0.85" opacity="0.55"/>
<circle cx="469.0" cy="363.0" r="3.3" fill="none" stroke="#d07a70" stroke-width="0.85" opacity="0.55"/>
<circle cx="461.0" cy="375.0" r="3.3" fill="none" stroke="#d07a70" stroke-width="0.85" opacity="0.55"/>
<circle cx="549.4" cy="346.0" r="3.4" fill="none" stroke="#c85a55" stroke-width="0.9" opacity="0.85"/>
<circle cx="557.0" cy="345.0" r="3.4" fill="none" stroke="#c85a55" stroke-width="0.9" opacity="0.85"/>
<circle cx="551.0" cy="351.8" r="3.4" fill="none" stroke="#c85a55" stroke-width="0.9" opacity="0.85"/>
<circle cx="541.4" cy="358.7" r="3.4" fill="none" stroke="#c85a55" stroke-width="0.9" opacity="0.85"/>
<circle cx="547.1" cy="369.0" r="3.4" fill="none" stroke="#c85a55" stroke-width="0.9" opacity="0.85"/>
<circle cx="549.0" cy="372.0" r="3.4" fill="none" stroke="#c85a55" stroke-width="0.9" opacity="0.85"/>
<path d="M536.8,348.3L539.2,350.7L536.8,353.1L534.4,350.7Z" fill="none" stroke="#c0504d" stroke-width="0.8" opacity="0.8"/>
<path d="M563.2,331.0L565.6,333.4L563.2,335.8L560.8,333.4Z" fill="none" stroke="#c0504d" stroke-width="0.8" opacity="0.8"/>
<path d="M566.0,315.6L568.4,318.0L566.0,320.4L563.6,318.0Z" fill="none" stroke="#c0504d" stroke-width="0.8" opacity="0.8"/>
<path d="M570.0,319.6L572.4,322.0L570.0,324.4L567.6,322.0Z" fill="none" stroke="#c0504d" stroke-width="0.8" opacity="0.8"/>
<path d="M575.0,311.6L577.4,314.0L575.0,316.4L572.6,314.0Z" fill="none" stroke="#c0504d" stroke-width="0.8" opacity="0.8"/>
<path d="M563.0,323.6L565.4,326.0L563.0,328.4L560.6,326.0Z" fill="none" stroke="#c0504d" stroke-width="0.8" opacity="0.8"/>
<text transform="translate(580.0,301.5) scale(1,1.1) rotate(-55.5)" font-size="8.8" font-weight="bold" text-anchor="middle" dy="0.34em" fill="#e33b3b">Mar6PM</text>
<text transform="translate(450.5,356.2) scale(1,1.1) rotate(-23.0)" font-size="9.2" font-weight="bold" text-anchor="middle" dy="0.34em" fill="#33c333">Mar6AM</text>
<text transform="translate(530.5,394.0) scale(1,1.1) rotate(-47.3)" font-size="8.8" font-weight="bold" text-anchor="middle" dy="0.34em" fill="#e04848">Mar6evening</text>
</g>
<defs>
<g id="ellT" fill="none" stroke="#111" stroke-width="1.1">
<ellipse cx="160.48" cy="133.73" rx="57.20" ry="17.40" transform="rotate(-36.03 160.48 133.73)"/>
<ellipse cx="173.76" cy="179.69" rx="37.86" ry="11.63" transform="rotate(66.68 173.76 179.69)"/>
<path d="M140.46,195.18 L140.60,194.32 L140.89,193.47 L141.32,192.65 L141.87,191.86 L142.54,191.10 L143.30,190.40 L144.15,189.74 L145.08,189.15 L146.06,188.64 L147.09,188.19 L148.16,187.82 L149.26,187.51 L150.40,187.25 L151.56,187.05 L152.75,186.89 L153.95,186.77 L155.17,186.68 L156.39,186.62 L157.62,186.57 L158.85,186.54 L160.07,186.51 L161.28,186.48 L162.47,186.44 L163.65,186.38 L164.80,186.31 L165.93,186.21 L167.03,186.08 L168.10,185.93 L169.16,185.75 L170.19,185.55 L171.21,185.32 L172.21,185.06 L173.20,184.78 L174.17,184.47 L175.14,184.13 L176.09,183.77 L177.04,183.38 L177.98,182.96 L178.92,182.52 L179.86,182.05 L180.80,181.55 L181.75,181.02 L182.69,180.47 L183.65,179.89 L184.61,179.28 L185.58,178.64 L186.56,177.98 L187.56,177.28 L188.57,176.57 L189.59,175.83 L190.62,175.09 L191.65,174.35 L192.69,173.61 L193.73,172.88 L194.77,172.16 L195.81,171.48 L196.84,170.82 L197.87,170.20 L198.89,169.63 L199.89,169.11 L200.88,168.65 L201.86,168.26 L202.81,167.93 L203.75,167.69 L204.66,167.53 L205.55,167.47 L206.41,167.51 L207.24,167.65 L208.04,167.91 L208.80,168.28 L209.50,168.75 L210.15,169.30 L210.72,169.94 L211.21,170.65 L211.60,171.41 L211.89,172.23 L212.08,173.08 L212.16,173.98 L212.16,174.92 L212.06,175.88 L211.88,176.88 L211.63,177.90 L211.29,178.93 L210.89,179.98 L210.42,181.04 L209.89,182.11 L209.31,183.18 L208.67,184.25 L207.99,185.31 L207.26,186.36 L206.50,187.40 L205.71,188.42 L204.88,189.41 L204.04,190.38 L203.18,191.32 L202.30,192.22 L201.42,193.08 L200.53,193.90 L199.64,194.67 L198.75,195.39 L197.86,196.07 L196.96,196.71 L196.07,197.31 L195.17,197.88 L194.26,198.40 L193.35,198.90 L192.43,199.36 L191.51,199.79 L190.58,200.19 L189.64,200.57 L188.69,200.92 L187.73,201.25 L186.76,201.57 L185.78,201.86 L184.78,202.13 L183.78,202.39 L182.76,202.64 L181.72,202.88 L180.67,203.11 L179.60,203.33 L178.52,203.55 L177.42,203.77 L176.30,203.98 L175.17,204.19 L174.01,204.40 L172.84,204.61 L171.66,204.82 L170.47,205.01 L169.27,205.19 L168.06,205.37 L166.85,205.52 L165.64,205.66 L164.42,205.78 L163.21,205.89 L162.01,205.96 L160.80,206.02 L159.61,206.04 L158.43,206.04 L157.26,206.00 L156.10,205.93 L154.96,205.83 L153.84,205.68 L152.74,205.50 L151.66,205.27 L150.60,205.00 L149.58,204.68 L148.58,204.32 L147.61,203.90 L146.68,203.43 L145.78,202.91 L144.91,202.32 L144.09,201.68 L143.31,200.98 L142.60,200.23 L141.97,199.45 L141.42,198.63 L140.98,197.78 L140.67,196.92 L140.49,196.05Z"/>
<ellipse cx="261.33" cy="96.10" rx="71.36" ry="18.31" transform="rotate(-52.12 261.33 96.10)"/>
<path d="M222.03,167.50 L222.13,165.71 L222.63,163.80 L223.47,161.86 L224.59,159.95 L225.94,158.15 L227.47,156.48 L229.16,154.93 L231.00,153.49 L232.96,152.15 L235.02,150.90 L237.16,149.73 L239.36,148.63 L241.59,147.59 L243.84,146.60 L246.09,145.65 L248.32,144.73 L250.55,143.84 L252.76,142.97 L254.95,142.13 L257.14,141.29 L259.31,140.46 L261.46,139.64 L263.59,138.82 L265.71,137.99 L267.81,137.15 L269.89,136.29 L271.96,135.42 L274.00,134.52 L276.02,133.59 L278.01,132.62 L279.99,131.62 L281.94,130.57 L283.86,129.48 L285.76,128.33 L287.64,127.12 L289.48,125.85 L291.30,124.51 L293.10,123.11 L294.87,121.66 L296.62,120.15 L298.35,118.59 L300.06,117.00 L301.77,115.37 L303.46,113.71 L305.14,112.02 L306.82,110.33 L308.49,108.61 L310.16,106.90 L311.83,105.18 L313.51,103.47 L315.20,101.77 L316.89,100.09 L318.59,98.43 L320.31,96.80 L322.04,95.20 L323.80,93.65 L325.57,92.14 L327.37,90.68 L329.19,89.28 L331.04,87.94 L332.92,86.67 L334.84,85.47 L336.79,84.36 L338.78,83.33 L340.81,82.39 L342.89,81.55 L345.01,80.81 L347.18,80.18 L349.38,79.68 L351.59,79.32 L353.73,79.16 L355.77,79.22 L357.65,79.55 L359.31,80.18 L360.71,81.14 L361.82,82.42 L362.60,83.96 L363.06,85.73 L363.22,87.69 L363.10,89.82 L362.75,92.08 L362.18,94.44 L361.45,96.88 L360.58,99.37 L359.60,101.88 L358.54,104.37 L357.45,106.83 L356.34,109.22 L355.24,111.53 L354.14,113.77 L353.03,115.93 L351.91,118.03 L350.77,120.06 L349.61,122.02 L348.42,123.93 L347.20,125.77 L345.94,127.57 L344.65,129.31 L343.30,131.00 L341.90,132.65 L340.45,134.25 L338.94,135.82 L337.36,137.34 L335.74,138.83 L334.06,140.29 L332.34,141.70 L330.57,143.09 L328.75,144.45 L326.90,145.77 L325.02,147.07 L323.10,148.33 L321.15,149.58 L319.17,150.80 L317.18,151.99 L315.16,153.16 L313.12,154.32 L311.07,155.45 L309.01,156.57 L306.94,157.67 L304.87,158.75 L302.80,159.82 L300.73,160.88 L298.66,161.93 L296.60,162.97 L294.55,164.00 L292.50,165.02 L290.46,166.02 L288.42,167.00 L286.38,167.96 L284.33,168.89 L282.28,169.79 L280.21,170.66 L278.14,171.49 L276.05,172.29 L273.95,173.04 L271.83,173.75 L269.69,174.41 L267.52,175.02 L265.33,175.57 L263.11,176.07 L260.85,176.50 L258.57,176.87 L256.25,177.17 L253.89,177.40 L251.48,177.55 L249.04,177.63 L246.55,177.63 L244.01,177.54 L241.43,177.36 L238.85,177.09 L236.31,176.72 L233.85,176.24 L231.51,175.63 L229.34,174.91 L227.37,174.05 L225.64,173.05 L224.20,171.90 L223.10,170.60 L222.36,169.14Z"/>
</g>
<g id="ellB" fill="none" stroke="#111" stroke-width="1.1">
<ellipse cx="160.53" cy="421.95" rx="57.17" ry="11.30" transform="rotate(-33.04 160.53 421.95)"/>
<ellipse cx="178.80" cy="371.18" rx="57.27" ry="13.05" transform="rotate(-39.16 178.80 371.18)"/>
<path d="M131.20,429.30 L133.38,426.74 L135.62,424.24 L137.89,421.77 L140.20,419.35 L142.54,416.95 L144.89,414.57 L147.26,412.21 L149.63,409.85 L152.00,407.49 L154.35,405.12 L156.69,402.73 L159.00,400.32 L161.28,397.87 L163.52,395.38 L165.70,392.85 L167.85,390.28 L169.96,387.67 L172.04,385.04 L174.10,382.38 L176.14,379.70 L178.18,377.02 L180.21,374.34 L182.24,371.66 L184.28,368.99 L186.34,366.33 L188.42,363.70 L190.54,361.11 L192.68,358.54 L194.88,356.03 L197.12,353.56 L199.42,351.15 L201.78,348.80 L204.20,346.52 L206.71,344.31 L209.27,342.16 L211.88,340.05 L214.52,337.97 L217.18,335.90 L219.85,333.82 L222.51,331.72 L225.14,329.59 L227.73,327.40 L230.25,325.16 L232.68,322.85 L234.99,320.47 L237.17,317.99 L239.23,315.44 L241.22,312.83 L243.20,310.21 L245.21,307.60 L247.31,305.03 L249.49,302.51 L251.74,300.02 L254.06,297.58 L256.44,295.17 L258.88,292.81 L261.37,290.48 L263.91,288.20 L266.48,285.95 L269.08,283.75 L271.71,281.58 L274.36,279.46 L277.02,277.37 L279.69,275.32 L282.36,273.32 L285.03,271.34 L287.69,269.41 L290.34,267.51 L293.00,265.64 L295.65,263.81 L298.33,261.99 L301.01,260.20 L303.72,258.43 L306.45,256.67 L309.21,254.93 L312.01,253.19 L314.85,251.47 L317.73,249.74 L320.67,248.02 L323.66,246.29 L326.71,244.56 L329.83,242.82 L333.02,241.06 L336.28,239.30 L339.60,237.56 L342.93,235.95 L346.21,234.59 L349.40,233.58 L352.45,233.03 L355.30,233.06 L357.90,233.76 L360.16,235.19 L361.87,237.27 L362.83,239.83 L362.99,242.68 L362.38,245.65 L361.12,248.67 L359.34,251.71 L357.15,254.71 L354.68,257.64 L352.05,260.43 L349.39,263.05 L346.76,265.49 L344.18,267.76 L341.63,269.93 L339.11,272.02 L336.60,274.09 L334.10,276.16 L331.60,278.25 L329.10,280.35 L326.61,282.47 L324.12,284.61 L321.64,286.76 L319.16,288.92 L316.68,291.10 L314.21,293.29 L311.74,295.50 L309.27,297.71 L306.80,299.94 L304.34,302.18 L301.88,304.42 L299.42,306.68 L296.96,308.94 L294.51,311.22 L292.06,313.50 L289.60,315.79 L287.15,318.08 L284.71,320.38 L282.26,322.68 L279.81,324.99 L277.37,327.30 L274.92,329.62 L272.48,331.93 L270.03,334.25 L267.59,336.57 L265.15,338.90 L262.70,341.22 L260.26,343.54 L257.81,345.86 L255.37,348.17 L252.92,350.49 L250.48,352.80 L248.03,355.11 L245.58,357.41 L243.14,359.71 L240.69,362.01 L238.23,364.29 L235.78,366.57 L233.33,368.85 L230.87,371.11 L228.41,373.37 L225.95,375.62 L223.48,377.86 L221.02,380.08 L218.55,382.30 L216.08,384.50 L213.60,386.70 L211.12,388.88 L208.64,391.04"/>
<path d="M234.78,325.79 L234.77,324.72 L234.90,323.68 L235.17,322.69 L235.56,321.73 L236.07,320.81 L236.70,319.92 L237.41,319.06 L238.22,318.22 L239.11,317.41 L240.06,316.62 L241.07,315.85 L242.14,315.10 L243.24,314.35 L244.37,313.62 L245.52,312.90 L246.68,312.18 L247.84,311.47 L248.99,310.76 L250.12,310.04 L251.22,309.32 L252.30,308.60 L253.36,307.88 L254.40,307.15 L255.42,306.42 L256.42,305.69 L257.40,304.96 L258.37,304.23 L259.33,303.50 L260.28,302.78 L261.21,302.05 L262.14,301.33 L263.07,300.62 L263.99,299.90 L264.91,299.19 L265.83,298.49 L266.75,297.79 L267.67,297.10 L268.60,296.42 L269.53,295.74 L270.48,295.07 L271.43,294.42 L272.39,293.76 L273.36,293.12 L274.34,292.48 L275.34,291.85 L276.35,291.23 L277.37,290.61 L278.41,290.00 L279.46,289.39 L280.53,288.78 L281.62,288.18 L282.73,287.59 L283.85,287.00 L284.99,286.41 L286.16,285.82 L287.34,285.23 L288.55,284.65 L289.77,284.07 L291.03,283.48 L292.30,282.90 L293.59,282.34 L294.89,281.80 L296.18,281.29 L297.47,280.84 L298.74,280.45 L299.98,280.13 L301.18,279.90 L302.34,279.78 L303.45,279.76 L304.49,279.87 L305.47,280.11 L306.37,280.50 L307.18,281.02 L307.89,281.65 L308.51,282.38 L309.01,283.19 L309.39,284.06 L309.65,284.99 L309.78,285.96 L309.80,286.96 L309.70,288.00 L309.51,289.07 L309.22,290.16 L308.84,291.27 L308.37,292.39 L307.83,293.53 L307.22,294.66 L306.54,295.80 L305.81,296.93 L305.03,298.05 L304.20,299.16 L303.34,300.25 L302.44,301.31 L301.52,302.34 L300.59,303.34 L299.64,304.30 L298.68,305.22 L297.73,306.09 L296.78,306.92 L295.83,307.70 L294.87,308.45 L293.92,309.17 L292.97,309.85 L292.02,310.51 L291.06,311.14 L290.10,311.76 L289.14,312.36 L288.18,312.95 L287.22,313.53 L286.25,314.11 L285.28,314.68 L284.30,315.26 L283.32,315.85 L282.34,316.44 L281.35,317.03 L280.35,317.63 L279.35,318.24 L278.34,318.85 L277.32,319.46 L276.30,320.08 L275.27,320.70 L274.23,321.31 L273.19,321.93 L272.14,322.55 L271.08,323.16 L270.00,323.77 L268.92,324.38 L267.84,324.99 L266.74,325.59 L265.63,326.18 L264.50,326.77 L263.37,327.35 L262.23,327.92 L261.08,328.49 L259.91,329.04 L258.73,329.59 L257.54,330.12 L256.33,330.64 L255.12,331.15 L253.88,331.64 L252.64,332.12 L251.38,332.58 L250.11,333.02 L248.84,333.41 L247.58,333.76 L246.33,334.03 L245.11,334.22 L243.91,334.31 L242.75,334.30 L241.63,334.16 L240.56,333.88 L239.56,333.46 L238.62,332.86 L237.75,332.11 L236.97,331.22 L236.29,330.22 L235.72,329.15 L235.27,328.04 L234.95,326.91Z"/>
<path d="M155.42,409.32 L155.24,408.82 L155.17,408.33 L155.20,407.84 L155.31,407.35 L155.52,406.86 L155.80,406.37 L156.16,405.88 L156.59,405.40 L157.08,404.92 L157.63,404.45 L158.23,403.98 L158.88,403.51 L159.57,403.05 L160.29,402.60 L161.05,402.15 L161.83,401.71 L162.63,401.28 L163.45,400.86 L164.27,400.44 L165.10,400.04 L165.92,399.64 L166.74,399.26 L167.54,398.89 L168.32,398.52 L169.08,398.17 L169.83,397.83 L170.56,397.50 L171.28,397.18 L171.98,396.87 L172.68,396.57 L173.36,396.28 L174.04,395.99 L174.71,395.71 L175.37,395.44 L176.04,395.17 L176.70,394.91 L177.36,394.66 L178.02,394.41 L178.68,394.16 L179.35,393.92 L180.03,393.68 L180.71,393.44 L181.41,393.21 L182.11,392.97 L182.82,392.74 L183.55,392.51 L184.30,392.28 L185.06,392.04 L185.84,391.81 L186.64,391.58 L187.47,391.34 L188.31,391.10 L189.17,390.86 L190.05,390.63 L190.94,390.40 L191.84,390.17 L192.75,389.96 L193.65,389.75 L194.56,389.56 L195.47,389.39 L196.37,389.23 L197.27,389.08 L198.15,388.96 L199.01,388.87 L199.86,388.80 L200.69,388.75 L201.49,388.74 L202.27,388.75 L203.01,388.80 L203.72,388.89 L204.40,389.01 L205.04,389.17 L205.63,389.38 L206.18,389.62 L206.68,389.91 L207.13,390.25 L207.51,390.62 L207.83,391.03 L208.07,391.47 L208.23,391.94 L208.31,392.44 L208.29,392.97 L208.20,393.51 L208.02,394.08 L207.77,394.66 L207.46,395.25 L207.08,395.85 L206.65,396.45 L206.17,397.05 L205.64,397.66 L205.08,398.26 L204.48,398.85 L203.85,399.42 L203.20,399.99 L202.54,400.53 L201.86,401.05 L201.18,401.55 L200.49,402.03 L199.80,402.47 L199.11,402.90 L198.41,403.30 L197.71,403.69 L197.00,404.06 L196.29,404.41 L195.58,404.74 L194.87,405.06 L194.15,405.37 L193.43,405.66 L192.71,405.95 L191.98,406.22 L191.25,406.49 L190.52,406.75 L189.78,407.01 L189.04,407.27 L188.30,407.52 L187.56,407.77 L186.81,408.03 L186.06,408.29 L185.30,408.55 L184.55,408.81 L183.79,409.08 L183.03,409.36 L182.27,409.65 L181.50,409.95 L180.73,410.25 L179.96,410.55 L179.19,410.85 L178.41,411.15 L177.64,411.45 L176.86,411.74 L176.08,412.02 L175.31,412.29 L174.53,412.56 L173.75,412.81 L172.96,413.04 L172.18,413.26 L171.40,413.46 L170.62,413.64 L169.84,413.79 L169.06,413.92 L168.27,414.02 L167.49,414.10 L166.71,414.14 L165.94,414.15 L165.16,414.13 L164.38,414.06 L163.61,413.97 L162.83,413.82 L162.06,413.64 L161.29,413.41 L160.52,413.14 L159.77,412.83 L159.04,412.47 L158.33,412.08 L157.68,411.67 L157.07,411.23 L156.53,410.77 L156.07,410.29 L155.70,409.81Z"/>
</g>
</defs>
<use href="#ellT"/>
<use href="#ellB"/>
<use href="#ellT" transform="translate(302.429,1.229) scale(0.99277,0.99566)"/>
<use href="#ellB" transform="translate(302.429,0.459) scale(0.99277,0.99848)"/>
<text transform="translate(138.5,131.5) scale(1,1.1) rotate(-33.4)" font-size="8.7" font-weight="bold" text-anchor="middle" dy="0.34em" fill="#222" stroke="#fff" stroke-width="2.2" paint-order="stroke">Mar6AM</text>
<text transform="translate(277.3,44.2) scale(1,1.1) rotate(-28.2)" font-size="8.7" font-weight="bold" text-anchor="middle" dy="0.34em" fill="#222">Mar6PM(fine)</text>
<text transform="translate(334.5,147.5) scale(1,1.1) rotate(-32.5)" font-size="8.7" font-weight="bold" text-anchor="middle" dy="0.34em" fill="#222" stroke="#fff" stroke-width="2.2" paint-order="stroke">Mar7AM</text>
<text transform="translate(123.0,222.4) scale(1,1.1)" font-size="8.7" font-weight="bold" text-anchor="start" fill="#222">Mar6evening</text>
<text transform="translate(198.8,228.0) scale(1,1.1)" font-size="8.7" font-weight="bold" text-anchor="start" fill="#222">Mar6PM(coarse)</text>
<line x1="152.5" y1="204.7" x2="146.5" y2="215" stroke="#111" stroke-width="1"/>
<line x1="189.6" y1="214.3" x2="197.3" y2="222.5" stroke="#111" stroke-width="1"/>
<text transform="translate(172.5,354.5) scale(1,1.1) rotate(-36.4)" font-size="8.7" font-weight="bold" text-anchor="middle" dy="0.34em" fill="#222">Mar6evening</text>
<text transform="translate(260.0,354.5) scale(1,1.1) rotate(-38.3)" font-size="8.7" font-weight="bold" text-anchor="middle" dy="0.34em" fill="#222">Mar6PM</text>
<text transform="translate(332.5,289.5) scale(1,1.1) rotate(-33.4)" font-size="8.7" font-weight="bold" text-anchor="middle" dy="0.34em" fill="#222">Mar7AM</text>
<text transform="translate(163.5,444.0) scale(1,1.1) rotate(-31.5)" font-size="8.7" font-weight="bold" text-anchor="middle" dy="0.34em" fill="#222">Mar6AM</text>
<text transform="translate(439.6,132.5) scale(1,1.1) rotate(-33.4)" font-size="8.7" font-weight="bold" text-anchor="middle" dy="0.34em" fill="#222" stroke="#fff" stroke-width="2.2" paint-order="stroke">Mar6AM</text>
<text transform="translate(578.4,45.2) scale(1,1.1) rotate(-28.2)" font-size="8.7" font-weight="bold" text-anchor="middle" dy="0.34em" fill="#222">Mar6PM(fine)</text>
<text transform="translate(635.6,148.5) scale(1,1.1) rotate(-32.5)" font-size="8.7" font-weight="bold" text-anchor="middle" dy="0.34em" fill="#222" stroke="#fff" stroke-width="2.2" paint-order="stroke">Mar7AM</text>
<text transform="translate(424.1,223.4) scale(1,1.1)" font-size="8.7" font-weight="bold" text-anchor="start" fill="#222">Mar6evening</text>
<text transform="translate(499.9,229.0) scale(1,1.1)" font-size="8.7" font-weight="bold" text-anchor="start" fill="#222">Mar6PM(coarse)</text>
<line x1="453.6" y1="205.7" x2="447.6" y2="216.0" stroke="#111" stroke-width="1"/>
<line x1="490.70000000000005" y1="215.3" x2="498.40000000000003" y2="223.5" stroke="#111" stroke-width="1"/>
<text transform="translate(473.6,354.3) scale(1,1.1) rotate(-36.4)" font-size="8.7" font-weight="bold" text-anchor="middle" dy="0.34em" fill="#222">Mar6evening</text>
<text transform="translate(561.1,354.3) scale(1,1.1) rotate(-38.3)" font-size="8.7" font-weight="bold" text-anchor="middle" dy="0.34em" fill="#222">Mar6PM</text>
<text transform="translate(633.6,289.3) scale(1,1.1) rotate(-33.4)" font-size="8.7" font-weight="bold" text-anchor="middle" dy="0.34em" fill="#222">Mar7AM</text>
<text transform="translate(464.6,443.8) scale(1,1.1) rotate(-31.5)" font-size="8.7" font-weight="bold" text-anchor="middle" dy="0.34em" fill="#222">Mar6AM</text>
<rect x="423.6" y="14.5" width="92" height="53.6" fill="#fff" stroke="#8a8a8a" stroke-width="1"/>
<path d="M436.8,18.3L439.6,23.2L434,23.2Z" fill="#22cc22"/>
<path d="M436.8,32L439.3,34.5L436.8,37L434.3,34.5Z" fill="none" stroke="#b5524f" stroke-width="0.8"/>
<circle cx="436.8" cy="47.7" r="4.2" fill="none" stroke="#c0393b" stroke-width="1"/>
<circle cx="436.8" cy="60.8" r="3.5" fill="none" stroke="#ee8a22" stroke-width="2"/>
<text transform="translate(448.6,25) scale(1,1.07)" font-size="10.5" fill="#111">-2018Mar6am</text>
<text transform="translate(448.6,38.1) scale(1,1.07)" font-size="10.5" fill="#111">-2018Mar6 15h</text>
<text transform="translate(448.6,51.1) scale(1,1.07)" font-size="10.5" fill="#111">-2018Mar6 22h</text>
<text transform="translate(448.6,64.2) scale(1,1.07)" font-size="10.5" fill="#111">-2018Mar7 12h</text>
<rect x="306.3" y="363.5" width="67.4" height="19.2" fill="#fff" stroke="#9a9a9a" stroke-width="1"/>
<text transform="translate(341.6,378.4) scale(1,1.06)" font-size="14" fill="#111">&lt;125</text>
<rect x="306.9" y="385.7" width="67.4" height="18.8" fill="#fff" stroke="#9a9a9a" stroke-width="1"/>
<text transform="translate(342.2,399.6) scale(1,1.06)" font-size="14" fill="#111">&gt;125</text>
<rect x="307.5" y="407.9" width="67.2" height="19.8" fill="#fff" stroke="#9a9a9a" stroke-width="1"/>
<text transform="translate(342.8,422.3) scale(1,1.06)" font-size="14" fill="#111">&gt;250</text>
<rect x="307.5" y="430.2" width="67.2" height="19.8" fill="#fff" stroke="#9a9a9a" stroke-width="1"/>
<text transform="translate(342.8,444.5) scale(1,1.06)" font-size="14" fill="#111">&gt;500</text>
<circle cx="323.3" cy="373.2" r="1.9" fill="#5b4aa1"/>
<path d="M323.6,391.2L327.6,395.2L323.6,399.2L319.6,395.2Z" fill="#5b4aa1"/>
<path d="M324,414.2L327.4,420.2L320.6,420.2Z" fill="#5b4aa1"/>
<rect x="320.3" y="436.3" width="6.8" height="6.8" fill="#5cb8a6"/>
</svg>
</body></html>
